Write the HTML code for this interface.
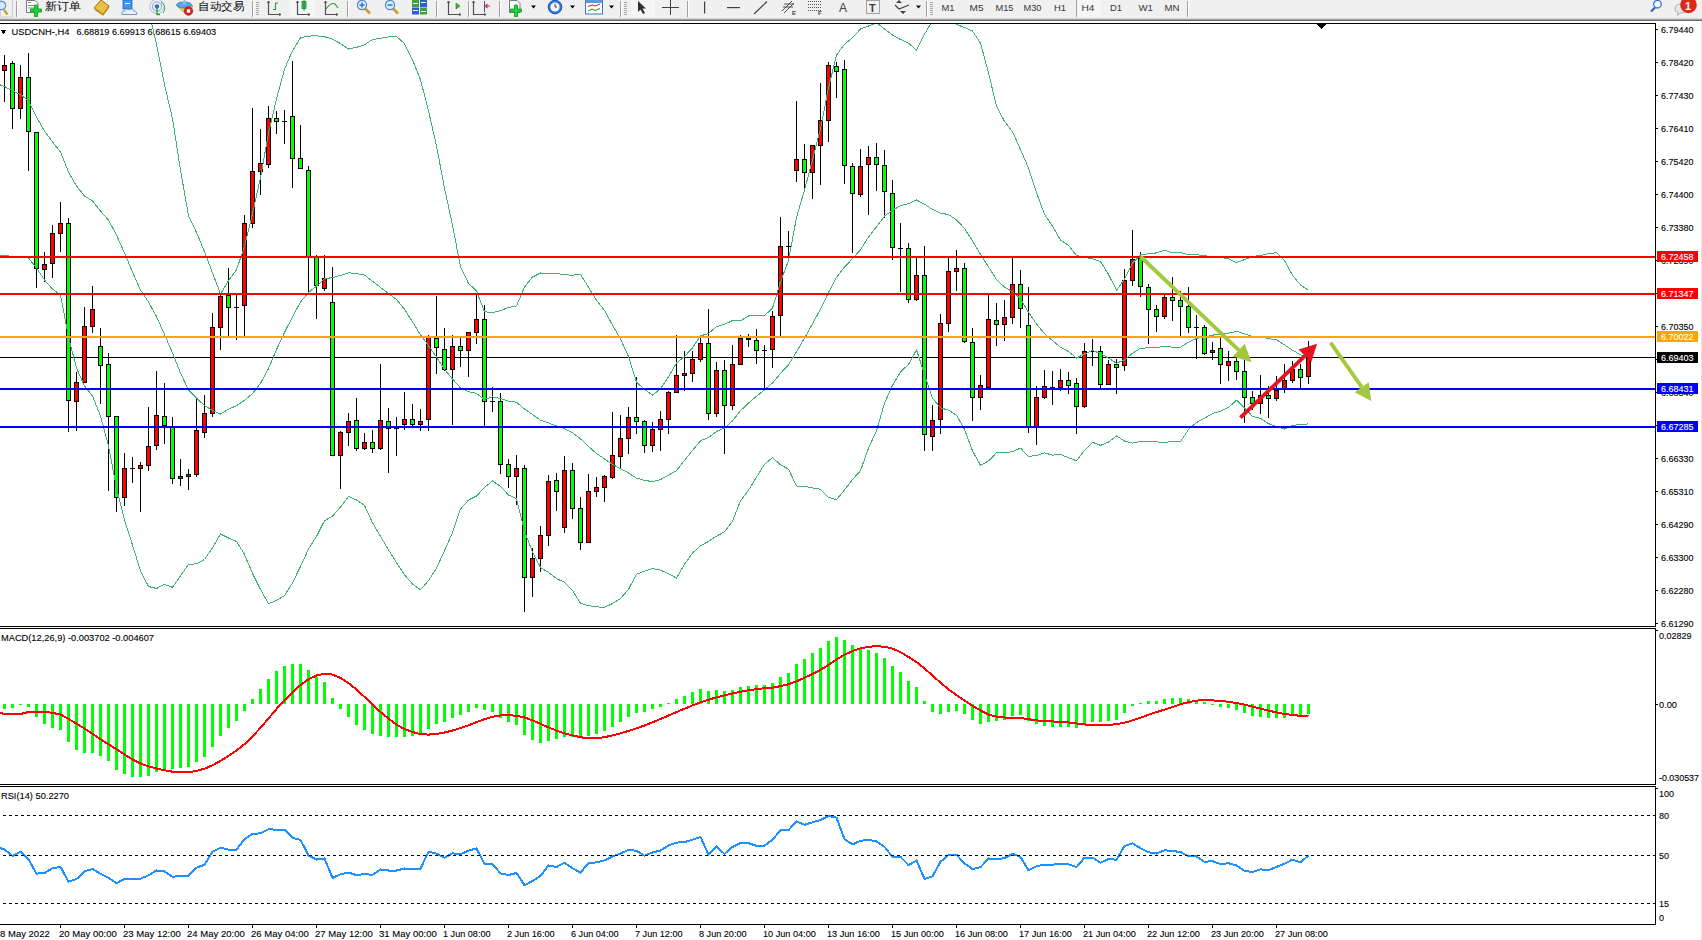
<!DOCTYPE html>
<html><head><meta charset="utf-8"><style>
html,body{margin:0;padding:0;background:#fff;width:1702px;height:940px;overflow:hidden}
svg{display:block}
text{font-family:"Liberation Sans", sans-serif}
</style></head><body>
<svg width="1702" height="940" viewBox="0 0 1702 940">
<rect x="0" y="0" width="1702" height="940" fill="#fff"/>
<g shape-rendering="crispEdges">
<rect x="0" y="23" width="1656" height="1" fill="#000"/>
<rect x="0" y="626" width="1656" height="1" fill="#000"/>
<rect x="0" y="628" width="1656" height="1" fill="#000"/>
<rect x="0" y="784" width="1656" height="1" fill="#000"/>
<rect x="0" y="786" width="1656" height="1" fill="#000"/>
<rect x="0" y="924" width="1656" height="1" fill="#000"/>
<rect x="1655" y="23" width="1" height="604" fill="#000"/>
<rect x="1655" y="628" width="1" height="157" fill="#000"/>
<rect x="1655" y="786" width="1" height="139" fill="#000"/>
<clipPath id="cm"><rect x="0" y="24" width="1655" height="602"/></clipPath>
<clipPath id="cd"><rect x="0" y="629" width="1655" height="155"/></clipPath>
<clipPath id="cr"><rect x="0" y="787" width="1655" height="137"/></clipPath>
<g clip-path="url(#cm)">
<rect x="0" y="357" width="1655" height="1" fill="#000"/>
<rect x="4" y="55" width="1" height="47" fill="#000"/>
<rect x="2" y="65" width="5" height="6" fill="#000"/>
<rect x="3" y="66" width="3" height="4" fill="#ff0000"/>
<rect x="12" y="61" width="1" height="68" fill="#000"/>
<rect x="10" y="63" width="5" height="46" fill="#000"/>
<rect x="11" y="64" width="3" height="44" fill="#00ff00"/>
<rect x="20" y="65" width="1" height="54" fill="#000"/>
<rect x="18" y="77" width="5" height="32" fill="#000"/>
<rect x="19" y="78" width="3" height="30" fill="#ff0000"/>
<rect x="28" y="53" width="1" height="118" fill="#000"/>
<rect x="26" y="77" width="5" height="55" fill="#000"/>
<rect x="27" y="78" width="3" height="53" fill="#00ff00"/>
<rect x="36" y="132" width="1" height="156" fill="#000"/>
<rect x="34" y="132" width="5" height="137" fill="#000"/>
<rect x="35" y="133" width="3" height="135" fill="#00ff00"/>
<rect x="44" y="252" width="1" height="30" fill="#000"/>
<rect x="42" y="264" width="5" height="6" fill="#000"/>
<rect x="43" y="265" width="3" height="4" fill="#ff0000"/>
<rect x="52" y="225" width="1" height="53" fill="#000"/>
<rect x="50" y="233" width="5" height="31" fill="#000"/>
<rect x="51" y="234" width="3" height="29" fill="#ff0000"/>
<rect x="60" y="202" width="1" height="50" fill="#000"/>
<rect x="58" y="223" width="5" height="11" fill="#000"/>
<rect x="59" y="224" width="3" height="9" fill="#ff0000"/>
<rect x="68" y="218" width="1" height="214" fill="#000"/>
<rect x="66" y="223" width="5" height="178" fill="#000"/>
<rect x="67" y="224" width="3" height="176" fill="#00ff00"/>
<rect x="76" y="372" width="1" height="59" fill="#000"/>
<rect x="74" y="382" width="5" height="20" fill="#000"/>
<rect x="75" y="383" width="3" height="18" fill="#ff0000"/>
<rect x="84" y="307" width="1" height="76" fill="#000"/>
<rect x="82" y="326" width="5" height="57" fill="#000"/>
<rect x="83" y="327" width="3" height="55" fill="#ff0000"/>
<rect x="92" y="286" width="1" height="47" fill="#000"/>
<rect x="90" y="309" width="5" height="18" fill="#000"/>
<rect x="91" y="310" width="3" height="16" fill="#ff0000"/>
<rect x="100" y="328" width="1" height="76" fill="#000"/>
<rect x="98" y="346" width="5" height="20" fill="#000"/>
<rect x="99" y="347" width="3" height="18" fill="#00ff00"/>
<rect x="108" y="353" width="1" height="138" fill="#000"/>
<rect x="106" y="364" width="5" height="53" fill="#000"/>
<rect x="107" y="365" width="3" height="51" fill="#00ff00"/>
<rect x="116" y="416" width="1" height="96" fill="#000"/>
<rect x="114" y="416" width="5" height="82" fill="#000"/>
<rect x="115" y="417" width="3" height="80" fill="#00ff00"/>
<rect x="124" y="453" width="1" height="53" fill="#000"/>
<rect x="122" y="468" width="5" height="30" fill="#000"/>
<rect x="123" y="469" width="3" height="28" fill="#ff0000"/>
<rect x="132" y="457" width="1" height="26" fill="#000"/>
<rect x="130" y="468" width="5" height="1" fill="#000"/>
<rect x="140" y="462" width="1" height="50" fill="#000"/>
<rect x="138" y="465" width="5" height="4" fill="#000"/>
<rect x="139" y="466" width="3" height="2" fill="#ff0000"/>
<rect x="148" y="407" width="1" height="64" fill="#000"/>
<rect x="146" y="446" width="5" height="20" fill="#000"/>
<rect x="147" y="447" width="3" height="18" fill="#ff0000"/>
<rect x="156" y="371" width="1" height="79" fill="#000"/>
<rect x="154" y="415" width="5" height="31" fill="#000"/>
<rect x="155" y="416" width="3" height="29" fill="#ff0000"/>
<rect x="164" y="383" width="1" height="61" fill="#000"/>
<rect x="162" y="416" width="5" height="10" fill="#000"/>
<rect x="163" y="417" width="3" height="8" fill="#00ff00"/>
<rect x="172" y="417" width="1" height="67" fill="#000"/>
<rect x="170" y="427" width="5" height="52" fill="#000"/>
<rect x="171" y="428" width="3" height="50" fill="#00ff00"/>
<rect x="180" y="459" width="1" height="27" fill="#000"/>
<rect x="178" y="476" width="5" height="3" fill="#000"/>
<rect x="179" y="477" width="3" height="1" fill="#ff0000"/>
<rect x="188" y="469" width="1" height="21" fill="#000"/>
<rect x="186" y="474" width="5" height="3" fill="#000"/>
<rect x="187" y="475" width="3" height="1" fill="#ff0000"/>
<rect x="196" y="399" width="1" height="78" fill="#000"/>
<rect x="194" y="430" width="5" height="45" fill="#000"/>
<rect x="195" y="431" width="3" height="43" fill="#ff0000"/>
<rect x="204" y="395" width="1" height="43" fill="#000"/>
<rect x="202" y="413" width="5" height="20" fill="#000"/>
<rect x="203" y="414" width="3" height="18" fill="#ff0000"/>
<rect x="212" y="313" width="1" height="104" fill="#000"/>
<rect x="210" y="327" width="5" height="87" fill="#000"/>
<rect x="211" y="328" width="3" height="85" fill="#ff0000"/>
<rect x="220" y="293" width="1" height="57" fill="#000"/>
<rect x="218" y="296" width="5" height="32" fill="#000"/>
<rect x="219" y="297" width="3" height="30" fill="#ff0000"/>
<rect x="228" y="268" width="1" height="68" fill="#000"/>
<rect x="226" y="295" width="5" height="13" fill="#000"/>
<rect x="227" y="296" width="3" height="11" fill="#00ff00"/>
<rect x="236" y="295" width="1" height="45" fill="#000"/>
<rect x="234" y="307" width="5" height="1" fill="#000"/>
<rect x="244" y="215" width="1" height="121" fill="#000"/>
<rect x="242" y="223" width="5" height="83" fill="#000"/>
<rect x="243" y="224" width="3" height="81" fill="#ff0000"/>
<rect x="252" y="108" width="1" height="120" fill="#000"/>
<rect x="250" y="171" width="5" height="53" fill="#000"/>
<rect x="251" y="172" width="3" height="51" fill="#ff0000"/>
<rect x="260" y="129" width="1" height="66" fill="#000"/>
<rect x="258" y="163" width="5" height="9" fill="#000"/>
<rect x="259" y="164" width="3" height="7" fill="#ff0000"/>
<rect x="268" y="106" width="1" height="62" fill="#000"/>
<rect x="266" y="118" width="5" height="47" fill="#000"/>
<rect x="267" y="119" width="3" height="45" fill="#ff0000"/>
<rect x="276" y="111" width="1" height="23" fill="#000"/>
<rect x="274" y="118" width="5" height="4" fill="#000"/>
<rect x="275" y="119" width="3" height="2" fill="#00ff00"/>
<rect x="284" y="110" width="1" height="34" fill="#000"/>
<rect x="282" y="121" width="5" height="1" fill="#000"/>
<rect x="292" y="61" width="1" height="127" fill="#000"/>
<rect x="290" y="116" width="5" height="43" fill="#000"/>
<rect x="291" y="117" width="3" height="41" fill="#00ff00"/>
<rect x="300" y="125" width="1" height="44" fill="#000"/>
<rect x="298" y="158" width="5" height="11" fill="#000"/>
<rect x="299" y="159" width="3" height="9" fill="#00ff00"/>
<rect x="308" y="166" width="1" height="126" fill="#000"/>
<rect x="306" y="170" width="5" height="87" fill="#000"/>
<rect x="307" y="171" width="3" height="85" fill="#00ff00"/>
<rect x="316" y="255" width="1" height="64" fill="#000"/>
<rect x="314" y="257" width="5" height="29" fill="#000"/>
<rect x="315" y="258" width="3" height="27" fill="#00ff00"/>
<rect x="324" y="255" width="1" height="36" fill="#000"/>
<rect x="322" y="278" width="5" height="11" fill="#000"/>
<rect x="323" y="279" width="3" height="9" fill="#ff0000"/>
<rect x="332" y="267" width="1" height="189" fill="#000"/>
<rect x="330" y="302" width="5" height="154" fill="#000"/>
<rect x="331" y="303" width="3" height="152" fill="#00ff00"/>
<rect x="340" y="431" width="1" height="58" fill="#000"/>
<rect x="338" y="432" width="5" height="24" fill="#000"/>
<rect x="339" y="433" width="3" height="22" fill="#ff0000"/>
<rect x="348" y="413" width="1" height="33" fill="#000"/>
<rect x="346" y="421" width="5" height="12" fill="#000"/>
<rect x="347" y="422" width="3" height="10" fill="#ff0000"/>
<rect x="356" y="398" width="1" height="53" fill="#000"/>
<rect x="354" y="420" width="5" height="29" fill="#000"/>
<rect x="355" y="421" width="3" height="27" fill="#00ff00"/>
<rect x="364" y="433" width="1" height="17" fill="#000"/>
<rect x="362" y="442" width="5" height="7" fill="#000"/>
<rect x="363" y="443" width="3" height="5" fill="#ff0000"/>
<rect x="372" y="430" width="1" height="23" fill="#000"/>
<rect x="370" y="442" width="5" height="7" fill="#000"/>
<rect x="371" y="443" width="3" height="5" fill="#00ff00"/>
<rect x="380" y="364" width="1" height="86" fill="#000"/>
<rect x="378" y="420" width="5" height="29" fill="#000"/>
<rect x="379" y="421" width="3" height="27" fill="#ff0000"/>
<rect x="388" y="408" width="1" height="65" fill="#000"/>
<rect x="386" y="421" width="5" height="8" fill="#000"/>
<rect x="387" y="422" width="3" height="6" fill="#00ff00"/>
<rect x="396" y="417" width="1" height="39" fill="#000"/>
<rect x="394" y="426" width="5" height="3" fill="#000"/>
<rect x="395" y="427" width="3" height="1" fill="#00ff00"/>
<rect x="404" y="392" width="1" height="38" fill="#000"/>
<rect x="402" y="419" width="5" height="6" fill="#000"/>
<rect x="403" y="420" width="3" height="4" fill="#ff0000"/>
<rect x="412" y="404" width="1" height="23" fill="#000"/>
<rect x="410" y="419" width="5" height="6" fill="#000"/>
<rect x="411" y="420" width="3" height="4" fill="#00ff00"/>
<rect x="420" y="409" width="1" height="22" fill="#000"/>
<rect x="418" y="421" width="5" height="4" fill="#000"/>
<rect x="419" y="422" width="3" height="2" fill="#ff0000"/>
<rect x="428" y="335" width="1" height="96" fill="#000"/>
<rect x="426" y="337" width="5" height="83" fill="#000"/>
<rect x="427" y="338" width="3" height="81" fill="#ff0000"/>
<rect x="436" y="296" width="1" height="78" fill="#000"/>
<rect x="434" y="338" width="5" height="10" fill="#000"/>
<rect x="435" y="339" width="3" height="8" fill="#00ff00"/>
<rect x="444" y="328" width="1" height="43" fill="#000"/>
<rect x="442" y="349" width="5" height="21" fill="#000"/>
<rect x="443" y="350" width="3" height="19" fill="#00ff00"/>
<rect x="452" y="335" width="1" height="90" fill="#000"/>
<rect x="450" y="346" width="5" height="24" fill="#000"/>
<rect x="451" y="347" width="3" height="22" fill="#ff0000"/>
<rect x="460" y="338" width="1" height="29" fill="#000"/>
<rect x="458" y="346" width="5" height="5" fill="#000"/>
<rect x="459" y="347" width="3" height="3" fill="#00ff00"/>
<rect x="468" y="332" width="1" height="45" fill="#000"/>
<rect x="466" y="332" width="5" height="19" fill="#000"/>
<rect x="467" y="333" width="3" height="17" fill="#ff0000"/>
<rect x="476" y="293" width="1" height="51" fill="#000"/>
<rect x="474" y="319" width="5" height="14" fill="#000"/>
<rect x="475" y="320" width="3" height="12" fill="#ff0000"/>
<rect x="484" y="305" width="1" height="122" fill="#000"/>
<rect x="482" y="319" width="5" height="83" fill="#000"/>
<rect x="483" y="320" width="3" height="81" fill="#00ff00"/>
<rect x="492" y="387" width="1" height="25" fill="#000"/>
<rect x="490" y="401" width="5" height="1" fill="#000"/>
<rect x="500" y="393" width="1" height="81" fill="#000"/>
<rect x="498" y="401" width="5" height="64" fill="#000"/>
<rect x="499" y="402" width="3" height="62" fill="#00ff00"/>
<rect x="508" y="459" width="1" height="29" fill="#000"/>
<rect x="506" y="464" width="5" height="13" fill="#000"/>
<rect x="507" y="465" width="3" height="11" fill="#00ff00"/>
<rect x="516" y="455" width="1" height="50" fill="#000"/>
<rect x="514" y="468" width="5" height="9" fill="#000"/>
<rect x="515" y="469" width="3" height="7" fill="#ff0000"/>
<rect x="524" y="465" width="1" height="147" fill="#000"/>
<rect x="522" y="468" width="5" height="110" fill="#000"/>
<rect x="523" y="469" width="3" height="108" fill="#00ff00"/>
<rect x="532" y="548" width="1" height="49" fill="#000"/>
<rect x="530" y="558" width="5" height="20" fill="#000"/>
<rect x="531" y="559" width="3" height="18" fill="#ff0000"/>
<rect x="540" y="526" width="1" height="46" fill="#000"/>
<rect x="538" y="535" width="5" height="24" fill="#000"/>
<rect x="539" y="536" width="3" height="22" fill="#ff0000"/>
<rect x="548" y="475" width="1" height="71" fill="#000"/>
<rect x="546" y="481" width="5" height="55" fill="#000"/>
<rect x="547" y="482" width="3" height="53" fill="#ff0000"/>
<rect x="556" y="473" width="1" height="38" fill="#000"/>
<rect x="554" y="480" width="5" height="12" fill="#000"/>
<rect x="555" y="481" width="3" height="10" fill="#00ff00"/>
<rect x="564" y="456" width="1" height="77" fill="#000"/>
<rect x="562" y="470" width="5" height="58" fill="#000"/>
<rect x="563" y="471" width="3" height="56" fill="#ff0000"/>
<rect x="572" y="463" width="1" height="56" fill="#000"/>
<rect x="570" y="470" width="5" height="39" fill="#000"/>
<rect x="571" y="471" width="3" height="37" fill="#00ff00"/>
<rect x="580" y="497" width="1" height="53" fill="#000"/>
<rect x="578" y="508" width="5" height="35" fill="#000"/>
<rect x="579" y="509" width="3" height="33" fill="#00ff00"/>
<rect x="588" y="474" width="1" height="69" fill="#000"/>
<rect x="586" y="491" width="5" height="52" fill="#000"/>
<rect x="587" y="492" width="3" height="50" fill="#ff0000"/>
<rect x="596" y="477" width="1" height="20" fill="#000"/>
<rect x="594" y="487" width="5" height="5" fill="#000"/>
<rect x="595" y="488" width="3" height="3" fill="#ff0000"/>
<rect x="604" y="475" width="1" height="27" fill="#000"/>
<rect x="602" y="476" width="5" height="12" fill="#000"/>
<rect x="603" y="477" width="3" height="10" fill="#ff0000"/>
<rect x="612" y="412" width="1" height="67" fill="#000"/>
<rect x="610" y="455" width="5" height="23" fill="#000"/>
<rect x="611" y="456" width="3" height="21" fill="#ff0000"/>
<rect x="620" y="415" width="1" height="54" fill="#000"/>
<rect x="618" y="438" width="5" height="19" fill="#000"/>
<rect x="619" y="439" width="3" height="17" fill="#ff0000"/>
<rect x="628" y="407" width="1" height="47" fill="#000"/>
<rect x="626" y="417" width="5" height="22" fill="#000"/>
<rect x="627" y="418" width="3" height="20" fill="#ff0000"/>
<rect x="636" y="377" width="1" height="57" fill="#000"/>
<rect x="634" y="417" width="5" height="5" fill="#000"/>
<rect x="635" y="418" width="3" height="3" fill="#00ff00"/>
<rect x="644" y="420" width="1" height="33" fill="#000"/>
<rect x="642" y="421" width="5" height="25" fill="#000"/>
<rect x="643" y="422" width="3" height="23" fill="#00ff00"/>
<rect x="652" y="422" width="1" height="30" fill="#000"/>
<rect x="650" y="429" width="5" height="17" fill="#000"/>
<rect x="651" y="430" width="3" height="15" fill="#ff0000"/>
<rect x="660" y="411" width="1" height="40" fill="#000"/>
<rect x="658" y="419" width="5" height="11" fill="#000"/>
<rect x="659" y="420" width="3" height="9" fill="#ff0000"/>
<rect x="668" y="391" width="1" height="43" fill="#000"/>
<rect x="666" y="392" width="5" height="28" fill="#000"/>
<rect x="667" y="393" width="3" height="26" fill="#ff0000"/>
<rect x="676" y="335" width="1" height="58" fill="#000"/>
<rect x="674" y="375" width="5" height="18" fill="#000"/>
<rect x="675" y="376" width="3" height="16" fill="#ff0000"/>
<rect x="684" y="351" width="1" height="40" fill="#000"/>
<rect x="682" y="373" width="5" height="3" fill="#000"/>
<rect x="683" y="374" width="3" height="1" fill="#ff0000"/>
<rect x="692" y="351" width="1" height="31" fill="#000"/>
<rect x="690" y="359" width="5" height="15" fill="#000"/>
<rect x="691" y="360" width="3" height="13" fill="#ff0000"/>
<rect x="700" y="338" width="1" height="24" fill="#000"/>
<rect x="698" y="343" width="5" height="17" fill="#000"/>
<rect x="699" y="344" width="3" height="15" fill="#ff0000"/>
<rect x="708" y="309" width="1" height="111" fill="#000"/>
<rect x="706" y="343" width="5" height="71" fill="#000"/>
<rect x="707" y="344" width="3" height="69" fill="#00ff00"/>
<rect x="716" y="362" width="1" height="55" fill="#000"/>
<rect x="714" y="370" width="5" height="44" fill="#000"/>
<rect x="715" y="371" width="3" height="42" fill="#ff0000"/>
<rect x="724" y="360" width="1" height="94" fill="#000"/>
<rect x="722" y="370" width="5" height="36" fill="#000"/>
<rect x="723" y="371" width="3" height="34" fill="#00ff00"/>
<rect x="732" y="345" width="1" height="65" fill="#000"/>
<rect x="730" y="364" width="5" height="42" fill="#000"/>
<rect x="731" y="365" width="3" height="40" fill="#ff0000"/>
<rect x="740" y="335" width="1" height="30" fill="#000"/>
<rect x="738" y="338" width="5" height="27" fill="#000"/>
<rect x="739" y="339" width="3" height="25" fill="#ff0000"/>
<rect x="748" y="334" width="1" height="13" fill="#000"/>
<rect x="746" y="338" width="5" height="2" fill="#000"/>
<rect x="756" y="329" width="1" height="35" fill="#000"/>
<rect x="754" y="340" width="5" height="11" fill="#000"/>
<rect x="755" y="341" width="3" height="9" fill="#00ff00"/>
<rect x="764" y="345" width="1" height="44" fill="#000"/>
<rect x="762" y="350" width="5" height="1" fill="#000"/>
<rect x="772" y="311" width="1" height="57" fill="#000"/>
<rect x="770" y="316" width="5" height="34" fill="#000"/>
<rect x="771" y="317" width="3" height="32" fill="#ff0000"/>
<rect x="780" y="217" width="1" height="119" fill="#000"/>
<rect x="778" y="246" width="5" height="70" fill="#000"/>
<rect x="779" y="247" width="3" height="68" fill="#ff0000"/>
<rect x="788" y="231" width="1" height="26" fill="#000"/>
<rect x="786" y="246" width="5" height="1" fill="#000"/>
<rect x="796" y="101" width="1" height="81" fill="#000"/>
<rect x="794" y="159" width="5" height="12" fill="#000"/>
<rect x="795" y="160" width="3" height="10" fill="#ff0000"/>
<rect x="804" y="144" width="1" height="45" fill="#000"/>
<rect x="802" y="159" width="5" height="14" fill="#000"/>
<rect x="803" y="160" width="3" height="12" fill="#00ff00"/>
<rect x="812" y="145" width="1" height="54" fill="#000"/>
<rect x="810" y="145" width="5" height="28" fill="#000"/>
<rect x="811" y="146" width="3" height="26" fill="#ff0000"/>
<rect x="820" y="83" width="1" height="102" fill="#000"/>
<rect x="818" y="120" width="5" height="26" fill="#000"/>
<rect x="819" y="121" width="3" height="24" fill="#ff0000"/>
<rect x="828" y="62" width="1" height="80" fill="#000"/>
<rect x="826" y="65" width="5" height="56" fill="#000"/>
<rect x="827" y="66" width="3" height="54" fill="#ff0000"/>
<rect x="836" y="62" width="1" height="36" fill="#000"/>
<rect x="834" y="66" width="5" height="6" fill="#000"/>
<rect x="835" y="67" width="3" height="4" fill="#00ff00"/>
<rect x="844" y="60" width="1" height="124" fill="#000"/>
<rect x="842" y="69" width="5" height="97" fill="#000"/>
<rect x="843" y="70" width="3" height="95" fill="#00ff00"/>
<rect x="852" y="163" width="1" height="90" fill="#000"/>
<rect x="850" y="166" width="5" height="28" fill="#000"/>
<rect x="851" y="167" width="3" height="26" fill="#00ff00"/>
<rect x="860" y="149" width="1" height="48" fill="#000"/>
<rect x="858" y="166" width="5" height="29" fill="#000"/>
<rect x="859" y="167" width="3" height="27" fill="#ff0000"/>
<rect x="868" y="146" width="1" height="69" fill="#000"/>
<rect x="866" y="157" width="5" height="8" fill="#000"/>
<rect x="867" y="158" width="3" height="6" fill="#ff0000"/>
<rect x="876" y="143" width="1" height="48" fill="#000"/>
<rect x="874" y="157" width="5" height="8" fill="#000"/>
<rect x="875" y="158" width="3" height="6" fill="#00ff00"/>
<rect x="884" y="150" width="1" height="68" fill="#000"/>
<rect x="882" y="165" width="5" height="27" fill="#000"/>
<rect x="883" y="166" width="3" height="25" fill="#00ff00"/>
<rect x="892" y="180" width="1" height="80" fill="#000"/>
<rect x="890" y="193" width="5" height="55" fill="#000"/>
<rect x="891" y="194" width="3" height="53" fill="#00ff00"/>
<rect x="900" y="223" width="1" height="69" fill="#000"/>
<rect x="898" y="248" width="5" height="1" fill="#000"/>
<rect x="908" y="243" width="1" height="60" fill="#000"/>
<rect x="906" y="248" width="5" height="52" fill="#000"/>
<rect x="907" y="249" width="3" height="50" fill="#00ff00"/>
<rect x="916" y="258" width="1" height="43" fill="#000"/>
<rect x="914" y="275" width="5" height="25" fill="#000"/>
<rect x="915" y="276" width="3" height="23" fill="#ff0000"/>
<rect x="924" y="246" width="1" height="205" fill="#000"/>
<rect x="922" y="275" width="5" height="160" fill="#000"/>
<rect x="923" y="276" width="3" height="158" fill="#00ff00"/>
<rect x="932" y="405" width="1" height="46" fill="#000"/>
<rect x="930" y="420" width="5" height="17" fill="#000"/>
<rect x="931" y="421" width="3" height="15" fill="#ff0000"/>
<rect x="940" y="314" width="1" height="120" fill="#000"/>
<rect x="938" y="323" width="5" height="97" fill="#000"/>
<rect x="939" y="324" width="3" height="95" fill="#ff0000"/>
<rect x="948" y="258" width="1" height="74" fill="#000"/>
<rect x="946" y="271" width="5" height="53" fill="#000"/>
<rect x="947" y="272" width="3" height="51" fill="#ff0000"/>
<rect x="956" y="250" width="1" height="41" fill="#000"/>
<rect x="954" y="268" width="5" height="4" fill="#000"/>
<rect x="955" y="269" width="3" height="2" fill="#ff0000"/>
<rect x="964" y="263" width="1" height="80" fill="#000"/>
<rect x="962" y="268" width="5" height="74" fill="#000"/>
<rect x="963" y="269" width="3" height="72" fill="#00ff00"/>
<rect x="972" y="328" width="1" height="93" fill="#000"/>
<rect x="970" y="342" width="5" height="56" fill="#000"/>
<rect x="971" y="343" width="3" height="54" fill="#00ff00"/>
<rect x="980" y="375" width="1" height="35" fill="#000"/>
<rect x="978" y="385" width="5" height="13" fill="#000"/>
<rect x="979" y="386" width="3" height="11" fill="#ff0000"/>
<rect x="988" y="295" width="1" height="93" fill="#000"/>
<rect x="986" y="319" width="5" height="69" fill="#000"/>
<rect x="987" y="320" width="3" height="67" fill="#ff0000"/>
<rect x="996" y="303" width="1" height="43" fill="#000"/>
<rect x="994" y="320" width="5" height="5" fill="#000"/>
<rect x="995" y="321" width="3" height="3" fill="#00ff00"/>
<rect x="1004" y="300" width="1" height="41" fill="#000"/>
<rect x="1002" y="317" width="5" height="8" fill="#000"/>
<rect x="1003" y="318" width="3" height="6" fill="#ff0000"/>
<rect x="1012" y="258" width="1" height="66" fill="#000"/>
<rect x="1010" y="284" width="5" height="34" fill="#000"/>
<rect x="1011" y="285" width="3" height="32" fill="#ff0000"/>
<rect x="1020" y="270" width="1" height="58" fill="#000"/>
<rect x="1018" y="284" width="5" height="25" fill="#000"/>
<rect x="1019" y="285" width="3" height="23" fill="#00ff00"/>
<rect x="1028" y="287" width="1" height="146" fill="#000"/>
<rect x="1026" y="325" width="5" height="102" fill="#000"/>
<rect x="1027" y="326" width="3" height="100" fill="#00ff00"/>
<rect x="1036" y="386" width="1" height="59" fill="#000"/>
<rect x="1034" y="397" width="5" height="30" fill="#000"/>
<rect x="1035" y="398" width="3" height="28" fill="#ff0000"/>
<rect x="1044" y="370" width="1" height="29" fill="#000"/>
<rect x="1042" y="386" width="5" height="12" fill="#000"/>
<rect x="1043" y="387" width="3" height="10" fill="#ff0000"/>
<rect x="1052" y="371" width="1" height="34" fill="#000"/>
<rect x="1050" y="387" width="5" height="1" fill="#000"/>
<rect x="1060" y="369" width="1" height="22" fill="#000"/>
<rect x="1058" y="380" width="5" height="8" fill="#000"/>
<rect x="1059" y="381" width="3" height="6" fill="#ff0000"/>
<rect x="1068" y="372" width="1" height="22" fill="#000"/>
<rect x="1066" y="380" width="5" height="6" fill="#000"/>
<rect x="1067" y="381" width="3" height="4" fill="#00ff00"/>
<rect x="1076" y="378" width="1" height="56" fill="#000"/>
<rect x="1074" y="383" width="5" height="24" fill="#000"/>
<rect x="1075" y="384" width="3" height="22" fill="#00ff00"/>
<rect x="1084" y="343" width="1" height="65" fill="#000"/>
<rect x="1082" y="351" width="5" height="56" fill="#000"/>
<rect x="1083" y="352" width="3" height="54" fill="#ff0000"/>
<rect x="1092" y="339" width="1" height="27" fill="#000"/>
<rect x="1090" y="351" width="5" height="1" fill="#000"/>
<rect x="1100" y="346" width="1" height="42" fill="#000"/>
<rect x="1098" y="351" width="5" height="34" fill="#000"/>
<rect x="1099" y="352" width="3" height="32" fill="#00ff00"/>
<rect x="1108" y="360" width="1" height="25" fill="#000"/>
<rect x="1106" y="364" width="5" height="21" fill="#000"/>
<rect x="1107" y="365" width="3" height="19" fill="#ff0000"/>
<rect x="1116" y="359" width="1" height="35" fill="#000"/>
<rect x="1114" y="364" width="5" height="4" fill="#000"/>
<rect x="1115" y="365" width="3" height="2" fill="#00ff00"/>
<rect x="1124" y="269" width="1" height="102" fill="#000"/>
<rect x="1122" y="280" width="5" height="86" fill="#000"/>
<rect x="1123" y="281" width="3" height="84" fill="#ff0000"/>
<rect x="1132" y="230" width="1" height="56" fill="#000"/>
<rect x="1130" y="259" width="5" height="22" fill="#000"/>
<rect x="1131" y="260" width="3" height="20" fill="#ff0000"/>
<rect x="1140" y="252" width="1" height="45" fill="#000"/>
<rect x="1138" y="258" width="5" height="29" fill="#000"/>
<rect x="1139" y="259" width="3" height="27" fill="#00ff00"/>
<rect x="1148" y="284" width="1" height="60" fill="#000"/>
<rect x="1146" y="287" width="5" height="23" fill="#000"/>
<rect x="1147" y="288" width="3" height="21" fill="#00ff00"/>
<rect x="1156" y="305" width="1" height="27" fill="#000"/>
<rect x="1154" y="309" width="5" height="8" fill="#000"/>
<rect x="1155" y="310" width="3" height="6" fill="#00ff00"/>
<rect x="1164" y="295" width="1" height="24" fill="#000"/>
<rect x="1162" y="297" width="5" height="20" fill="#000"/>
<rect x="1163" y="298" width="3" height="18" fill="#ff0000"/>
<rect x="1172" y="277" width="1" height="44" fill="#000"/>
<rect x="1170" y="297" width="5" height="4" fill="#000"/>
<rect x="1171" y="298" width="3" height="2" fill="#00ff00"/>
<rect x="1180" y="291" width="1" height="46" fill="#000"/>
<rect x="1178" y="300" width="5" height="7" fill="#000"/>
<rect x="1179" y="301" width="3" height="5" fill="#00ff00"/>
<rect x="1188" y="287" width="1" height="46" fill="#000"/>
<rect x="1186" y="306" width="5" height="22" fill="#000"/>
<rect x="1187" y="307" width="3" height="20" fill="#00ff00"/>
<rect x="1196" y="315" width="1" height="44" fill="#000"/>
<rect x="1194" y="327" width="5" height="1" fill="#000"/>
<rect x="1204" y="325" width="1" height="30" fill="#000"/>
<rect x="1202" y="327" width="5" height="27" fill="#000"/>
<rect x="1203" y="328" width="3" height="25" fill="#00ff00"/>
<rect x="1212" y="342" width="1" height="18" fill="#000"/>
<rect x="1210" y="350" width="5" height="3" fill="#000"/>
<rect x="1211" y="351" width="3" height="1" fill="#ff0000"/>
<rect x="1220" y="338" width="1" height="46" fill="#000"/>
<rect x="1218" y="348" width="5" height="17" fill="#000"/>
<rect x="1219" y="349" width="3" height="15" fill="#00ff00"/>
<rect x="1228" y="351" width="1" height="30" fill="#000"/>
<rect x="1226" y="361" width="5" height="5" fill="#000"/>
<rect x="1227" y="362" width="3" height="3" fill="#ff0000"/>
<rect x="1236" y="358" width="1" height="22" fill="#000"/>
<rect x="1234" y="361" width="5" height="11" fill="#000"/>
<rect x="1235" y="362" width="3" height="9" fill="#00ff00"/>
<rect x="1244" y="359" width="1" height="64" fill="#000"/>
<rect x="1242" y="371" width="5" height="27" fill="#000"/>
<rect x="1243" y="372" width="3" height="25" fill="#00ff00"/>
<rect x="1252" y="391" width="1" height="19" fill="#000"/>
<rect x="1250" y="397" width="5" height="7" fill="#000"/>
<rect x="1251" y="398" width="3" height="5" fill="#00ff00"/>
<rect x="1260" y="375" width="1" height="39" fill="#000"/>
<rect x="1258" y="395" width="5" height="9" fill="#000"/>
<rect x="1259" y="396" width="3" height="7" fill="#ff0000"/>
<rect x="1268" y="386" width="1" height="32" fill="#000"/>
<rect x="1266" y="395" width="5" height="4" fill="#000"/>
<rect x="1267" y="396" width="3" height="2" fill="#00ff00"/>
<rect x="1276" y="376" width="1" height="25" fill="#000"/>
<rect x="1274" y="390" width="5" height="9" fill="#000"/>
<rect x="1275" y="391" width="3" height="7" fill="#ff0000"/>
<rect x="1284" y="364" width="1" height="29" fill="#000"/>
<rect x="1282" y="380" width="5" height="10" fill="#000"/>
<rect x="1283" y="381" width="3" height="8" fill="#ff0000"/>
<rect x="1292" y="361" width="1" height="22" fill="#000"/>
<rect x="1290" y="369" width="5" height="12" fill="#000"/>
<rect x="1291" y="370" width="3" height="10" fill="#ff0000"/>
<rect x="1300" y="364" width="1" height="24" fill="#000"/>
<rect x="1298" y="369" width="5" height="9" fill="#000"/>
<rect x="1299" y="370" width="3" height="7" fill="#00ff00"/>
<rect x="1308" y="341" width="1" height="43" fill="#000"/>
<rect x="1306" y="358" width="5" height="19" fill="#000"/>
<rect x="1307" y="359" width="3" height="17" fill="#ff0000"/>
<polyline points="140.5,-20.0 148.5,10.0 156.5,44.4 164.5,84.7 172.5,118.6 180.5,170.1 188.5,215.8 196.5,232.4 204.5,251.7 212.5,272.9 220.5,293.9 228.5,280.6 236.5,269.8 244.5,246.5 252.5,213.6 260.5,177.5 268.5,133.2 276.5,99.1 284.5,69.1 292.5,50.9 300.5,37.7 308.5,36.1 316.5,35.8 324.5,36.7 332.5,39.2 340.5,43.6 348.5,49.0 356.5,47.3 364.5,44.8 372.5,39.6 380.5,38.3 388.5,37.0 396.5,36.4 404.5,43.6 412.5,59.8 420.5,79.8 428.5,110.9 436.5,145.9 444.5,188.3 452.5,225.0 460.5,267.0 468.5,283.4 476.5,290.9 484.5,311.7 492.5,312.8 500.5,310.6 508.5,307.4 516.5,306.0 524.5,287.0 532.5,277.0 540.5,273.0 548.5,273.2 556.5,273.4 564.5,274.8 572.5,275.2 580.5,274.4 588.5,287.4 596.5,300.3 604.5,310.3 612.5,325.2 620.5,339.0 628.5,356.6 636.5,382.0 644.5,389.5 652.5,395.0 660.5,388.8 668.5,376.8 676.5,363.0 684.5,356.5 692.5,347.8 700.5,335.9 708.5,333.5 716.5,326.6 724.5,324.4 732.5,320.5 740.5,320.7 748.5,316.0 756.5,315.4 764.5,315.6 772.5,308.2 780.5,282.0 788.5,260.5 796.5,217.5 804.5,190.0 812.5,159.8 820.5,128.7 828.5,87.8 836.5,55.1 844.5,44.2 852.5,37.8 860.5,29.0 868.5,26.0 876.5,22.8 884.5,28.9 892.5,35.0 900.5,39.5 908.5,43.1 916.5,50.1 924.5,34.2 932.5,20.7 940.5,18.7 948.5,18.8 956.5,24.6 964.5,27.4 972.5,31.0 980.5,43.1 988.5,72.9 996.5,106.3 1004.5,121.4 1012.5,131.6 1020.5,149.5 1028.5,168.1 1036.5,192.3 1044.5,214.5 1052.5,226.2 1060.5,240.0 1068.5,245.4 1076.5,255.5 1084.5,257.5 1092.5,258.8 1100.5,261.6 1108.5,274.4 1116.5,290.3 1124.5,279.2 1132.5,263.1 1140.5,255.0 1148.5,253.8 1156.5,252.9 1164.5,250.3 1172.5,252.9 1180.5,252.6 1188.5,254.7 1196.5,254.7 1204.5,255.7 1212.5,256.8 1220.5,257.5 1228.5,258.8 1236.5,262.6 1244.5,259.6 1252.5,256.4 1260.5,255.5 1268.5,253.7 1276.5,252.7 1284.5,260.5 1292.5,275.2 1300.5,284.9 1308.5,290.4" fill="none" stroke="#3cb371" stroke-width="1" shape-rendering="crispEdges"/>
<polyline points="-3.5,83.5 4.5,86.5 12.5,91.0 20.5,94.5 28.5,101.0 36.5,117.0 44.5,131.0 52.5,142.0 60.5,152.0 68.5,172.0 76.5,186.0 84.5,196.0 92.5,201.0 100.5,211.0 108.5,220.0 116.5,235.0 124.5,253.0 132.5,272.0 140.5,290.0 148.5,302.0 156.5,316.5 164.5,334.5 172.5,353.0 180.5,372.9 188.5,390.1 196.5,398.1 204.5,405.6 212.5,410.3 220.5,414.0 228.5,409.3 236.5,405.6 244.5,400.4 252.5,393.5 260.5,383.4 268.5,368.5 276.5,349.7 284.5,332.4 292.5,316.9 300.5,302.0 308.5,292.6 316.5,286.1 324.5,278.7 332.5,277.6 340.5,275.4 348.5,272.7 356.5,273.6 364.5,275.1 372.5,281.2 380.5,287.4 388.5,293.4 396.5,299.5 404.5,309.2 412.5,321.9 420.5,334.8 428.5,345.7 436.5,357.0 444.5,369.5 452.5,378.9 460.5,387.9 468.5,391.7 476.5,393.4 484.5,399.6 492.5,396.9 500.5,398.5 508.5,401.2 516.5,402.2 524.5,409.0 532.5,414.5 540.5,420.2 548.5,422.9 556.5,426.0 564.5,428.6 572.5,432.8 580.5,438.8 588.5,446.5 596.5,453.5 604.5,458.9 612.5,464.4 620.5,468.7 628.5,473.0 636.5,478.1 644.5,480.3 652.5,481.7 660.5,479.5 668.5,475.2 676.5,470.6 684.5,460.4 692.5,450.4 700.5,440.8 708.5,437.4 716.5,431.4 724.5,428.1 732.5,420.9 740.5,410.7 748.5,403.1 756.5,396.3 764.5,389.9 772.5,383.0 780.5,373.4 788.5,364.8 796.5,351.7 804.5,338.1 812.5,323.9 820.5,308.9 828.5,292.6 836.5,277.4 844.5,267.0 852.5,258.7 860.5,249.8 868.5,237.0 876.5,226.7 884.5,216.1 892.5,210.2 900.5,205.7 908.5,203.7 916.5,200.0 924.5,204.2 932.5,209.4 940.5,213.2 948.5,214.5 956.5,219.9 964.5,228.4 972.5,241.0 980.5,254.2 988.5,266.9 996.5,279.5 1004.5,287.1 1012.5,291.7 1020.5,298.8 1028.5,312.3 1036.5,323.9 1044.5,333.7 1052.5,340.6 1060.5,347.3 1068.5,351.5 1076.5,358.1 1084.5,354.0 1092.5,350.5 1100.5,353.5 1108.5,358.2 1116.5,363.2 1124.5,360.1 1132.5,353.2 1140.5,348.3 1148.5,347.8 1156.5,347.4 1164.5,346.4 1172.5,347.2 1180.5,347.1 1188.5,342.1 1196.5,338.6 1204.5,337.0 1212.5,335.1 1220.5,334.4 1228.5,333.2 1236.5,331.4 1244.5,333.7 1252.5,336.4 1260.5,336.9 1268.5,338.6 1276.5,339.8 1284.5,344.8 1292.5,350.2 1300.5,354.8 1308.5,357.2" fill="none" stroke="#3cb371" stroke-width="1" shape-rendering="crispEdges"/>
<polyline points="-3.5,255.0 4.5,255.5 12.5,256.5 20.5,257.0 28.5,258.0 36.5,268.0 44.5,280.0 52.5,289.0 60.5,295.0 68.5,337.0 76.5,368.0 84.5,386.0 92.5,396.0 100.5,416.0 108.5,446.0 116.5,488.0 124.5,520.0 132.5,545.0 140.5,571.0 148.5,586.5 156.5,588.5 164.5,584.3 172.5,587.4 180.5,575.8 188.5,564.3 196.5,563.9 204.5,559.5 212.5,547.7 220.5,534.0 228.5,538.0 236.5,541.4 244.5,554.4 252.5,573.5 260.5,589.4 268.5,603.8 276.5,600.4 284.5,595.7 292.5,582.9 300.5,566.4 308.5,549.1 316.5,536.4 324.5,520.7 332.5,516.0 340.5,507.1 348.5,496.5 356.5,500.0 364.5,505.4 372.5,522.7 380.5,536.4 388.5,549.9 396.5,562.6 404.5,574.9 412.5,584.0 420.5,589.8 428.5,580.6 436.5,568.2 444.5,550.6 452.5,532.7 460.5,508.9 468.5,500.1 476.5,496.0 484.5,487.5 492.5,480.9 500.5,486.3 508.5,495.0 516.5,498.5 524.5,531.0 532.5,552.0 540.5,567.5 548.5,572.5 556.5,578.6 564.5,582.3 572.5,590.4 580.5,603.3 588.5,605.6 596.5,606.8 604.5,607.4 612.5,603.5 620.5,598.5 628.5,589.4 636.5,574.2 644.5,571.2 652.5,568.4 660.5,570.1 668.5,573.6 676.5,578.2 684.5,564.3 692.5,553.1 700.5,545.8 708.5,541.4 716.5,536.1 724.5,531.9 732.5,521.3 740.5,500.7 748.5,490.2 756.5,477.1 764.5,464.3 772.5,457.7 780.5,464.7 788.5,469.2 796.5,486.0 804.5,486.2 812.5,487.9 820.5,489.2 828.5,497.4 836.5,499.7 844.5,489.9 852.5,479.6 860.5,470.7 868.5,448.1 876.5,430.7 884.5,403.2 892.5,385.4 900.5,371.9 908.5,364.4 916.5,349.9 924.5,374.2 932.5,398.1 940.5,407.8 948.5,410.2 956.5,415.2 964.5,429.3 972.5,450.9 980.5,465.3 988.5,460.9 996.5,452.8 1004.5,452.9 1012.5,451.7 1020.5,448.1 1028.5,456.5 1036.5,455.5 1044.5,452.9 1052.5,455.1 1060.5,454.5 1068.5,457.7 1076.5,460.8 1084.5,450.4 1092.5,442.2 1100.5,445.4 1108.5,442.0 1116.5,436.0 1124.5,441.0 1132.5,443.2 1140.5,441.6 1148.5,441.8 1156.5,441.9 1164.5,442.5 1172.5,441.5 1180.5,441.6 1188.5,429.6 1196.5,422.5 1204.5,418.3 1212.5,413.5 1220.5,411.2 1228.5,407.5 1236.5,400.2 1244.5,407.9 1252.5,416.3 1260.5,418.3 1268.5,423.6 1276.5,426.8 1284.5,429.0 1292.5,425.3 1300.5,424.7 1308.5,423.9" fill="none" stroke="#3cb371" stroke-width="1" shape-rendering="crispEdges"/>
<rect x="0" y="256" width="1655" height="2" fill="#ff0000"/>
<rect x="0" y="293" width="1655" height="2" fill="#ff0000"/>
<rect x="0" y="336" width="1655" height="2" fill="#ffa500"/>
<rect x="0" y="388" width="1655" height="2" fill="#0000ff"/>
<rect x="0" y="426" width="1655" height="2" fill="#0000ff"/>
<g shape-rendering="geometricPrecision">
<line x1="1140.5" y1="256.5" x2="1238.75" y2="350.1" stroke="#a2c83e" stroke-width="3.8"/>
<polygon points="1251.5,362.3 1232.8,356.4 1244.7,343.8" fill="#a2c83e"/>
<line x1="1240.4" y1="417.7" x2="1304.9" y2="355.8" stroke="#e4141e" stroke-width="3.8"/>
<polygon points="1317.1,343.8 1298.5,349.5 1311.3,362.1" fill="#e4141e"/>
<line x1="1330.5" y1="342.7" x2="1361.75" y2="387.2" stroke="#a2c83e" stroke-width="3.8"/>
<polygon points="1371.3,401.1 1354.7,392.2 1368.8,382.2" fill="#a2c83e"/>
</g>
</g>
<polygon points="1316.5,24 1326.5,24 1321.5,29.5" fill="#000"/>
<polygon points="0.5,30 6.5,30 3.5,34" fill="#000"/>
<text x="11.5" y="35" font-size="9.9" fill="#000" stroke="#000" stroke-width="0.12" text-anchor="start" textLength="58" lengthAdjust="spacingAndGlyphs">USDCNH-,H4</text>
<text x="76.4" y="35" font-size="9.9" fill="#000" stroke="#000" stroke-width="0.12" text-anchor="start" textLength="139.8" lengthAdjust="spacingAndGlyphs">6.68819 6.69913 6.68615 6.69403</text>
<rect x="1656" y="29" width="2" height="1" fill="#000"/>
<text x="1661" y="33" font-size="9.9" fill="#000" stroke="#000" stroke-width="0.12" text-anchor="start" textLength="32.5" lengthAdjust="spacingAndGlyphs">6.79440</text>
<rect x="1656" y="62" width="2" height="1" fill="#000"/>
<text x="1661" y="66" font-size="9.9" fill="#000" stroke="#000" stroke-width="0.12" text-anchor="start" textLength="32.5" lengthAdjust="spacingAndGlyphs">6.78420</text>
<rect x="1656" y="95" width="2" height="1" fill="#000"/>
<text x="1661" y="99" font-size="9.9" fill="#000" stroke="#000" stroke-width="0.12" text-anchor="start" textLength="32.5" lengthAdjust="spacingAndGlyphs">6.77430</text>
<rect x="1656" y="128" width="2" height="1" fill="#000"/>
<text x="1661" y="132" font-size="9.9" fill="#000" stroke="#000" stroke-width="0.12" text-anchor="start" textLength="32.5" lengthAdjust="spacingAndGlyphs">6.76410</text>
<rect x="1656" y="161" width="2" height="1" fill="#000"/>
<text x="1661" y="165" font-size="9.9" fill="#000" stroke="#000" stroke-width="0.12" text-anchor="start" textLength="32.5" lengthAdjust="spacingAndGlyphs">6.75420</text>
<rect x="1656" y="194" width="2" height="1" fill="#000"/>
<text x="1661" y="198" font-size="9.9" fill="#000" stroke="#000" stroke-width="0.12" text-anchor="start" textLength="32.5" lengthAdjust="spacingAndGlyphs">6.74400</text>
<rect x="1656" y="227" width="2" height="1" fill="#000"/>
<text x="1661" y="231" font-size="9.9" fill="#000" stroke="#000" stroke-width="0.12" text-anchor="start" textLength="32.5" lengthAdjust="spacingAndGlyphs">6.73380</text>
<rect x="1656" y="260" width="2" height="1" fill="#000"/>
<text x="1661" y="264" font-size="9.9" fill="#000" stroke="#000" stroke-width="0.12" text-anchor="start" textLength="32.5" lengthAdjust="spacingAndGlyphs">6.72390</text>
<rect x="1656" y="293" width="2" height="1" fill="#000"/>
<text x="1661" y="297" font-size="9.9" fill="#000" stroke="#000" stroke-width="0.12" text-anchor="start" textLength="32.5" lengthAdjust="spacingAndGlyphs">6.71370</text>
<rect x="1656" y="326" width="2" height="1" fill="#000"/>
<text x="1661" y="330" font-size="9.9" fill="#000" stroke="#000" stroke-width="0.12" text-anchor="start" textLength="32.5" lengthAdjust="spacingAndGlyphs">6.70350</text>
<rect x="1656" y="359" width="2" height="1" fill="#000"/>
<text x="1661" y="363" font-size="9.9" fill="#000" stroke="#000" stroke-width="0.12" text-anchor="start" textLength="32.5" lengthAdjust="spacingAndGlyphs">6.69360</text>
<rect x="1656" y="392" width="2" height="1" fill="#000"/>
<text x="1661" y="396" font-size="9.9" fill="#000" stroke="#000" stroke-width="0.12" text-anchor="start" textLength="32.5" lengthAdjust="spacingAndGlyphs">6.68340</text>
<rect x="1656" y="425" width="2" height="1" fill="#000"/>
<text x="1661" y="429" font-size="9.9" fill="#000" stroke="#000" stroke-width="0.12" text-anchor="start" textLength="32.5" lengthAdjust="spacingAndGlyphs">6.67320</text>
<rect x="1656" y="458" width="2" height="1" fill="#000"/>
<text x="1661" y="462" font-size="9.9" fill="#000" stroke="#000" stroke-width="0.12" text-anchor="start" textLength="32.5" lengthAdjust="spacingAndGlyphs">6.66330</text>
<rect x="1656" y="491" width="2" height="1" fill="#000"/>
<text x="1661" y="495" font-size="9.9" fill="#000" stroke="#000" stroke-width="0.12" text-anchor="start" textLength="32.5" lengthAdjust="spacingAndGlyphs">6.65310</text>
<rect x="1656" y="524" width="2" height="1" fill="#000"/>
<text x="1661" y="528" font-size="9.9" fill="#000" stroke="#000" stroke-width="0.12" text-anchor="start" textLength="32.5" lengthAdjust="spacingAndGlyphs">6.64290</text>
<rect x="1656" y="557" width="2" height="1" fill="#000"/>
<text x="1661" y="561" font-size="9.9" fill="#000" stroke="#000" stroke-width="0.12" text-anchor="start" textLength="32.5" lengthAdjust="spacingAndGlyphs">6.63300</text>
<rect x="1656" y="590" width="2" height="1" fill="#000"/>
<text x="1661" y="594" font-size="9.9" fill="#000" stroke="#000" stroke-width="0.12" text-anchor="start" textLength="32.5" lengthAdjust="spacingAndGlyphs">6.62280</text>
<rect x="1656" y="623" width="2" height="1" fill="#000"/>
<text x="1661" y="627" font-size="9.9" fill="#000" stroke="#000" stroke-width="0.12" text-anchor="start" textLength="32.5" lengthAdjust="spacingAndGlyphs">6.61290</text>
<rect x="1657" y="251" width="41" height="11" fill="#ff0000"/>
<text x="1661" y="260" font-size="9.9" fill="#fff" stroke="#fff" stroke-width="0.12" text-anchor="start" textLength="32.5" lengthAdjust="spacingAndGlyphs">6.72458</text>
<rect x="1657" y="288" width="41" height="11" fill="#ff0000"/>
<text x="1661" y="297" font-size="9.9" fill="#fff" stroke="#fff" stroke-width="0.12" text-anchor="start" textLength="32.5" lengthAdjust="spacingAndGlyphs">6.71347</text>
<rect x="1657" y="331" width="41" height="11" fill="#ffa500"/>
<text x="1661" y="340" font-size="9.9" fill="#fff" stroke="#fff" stroke-width="0.12" text-anchor="start" textLength="32.5" lengthAdjust="spacingAndGlyphs">6.70022</text>
<rect x="1657" y="352" width="41" height="11" fill="#000000"/>
<text x="1661" y="361" font-size="9.9" fill="#fff" stroke="#fff" stroke-width="0.12" text-anchor="start" textLength="32.5" lengthAdjust="spacingAndGlyphs">6.69403</text>
<rect x="1657" y="383" width="41" height="11" fill="#0000ff"/>
<text x="1661" y="392" font-size="9.9" fill="#fff" stroke="#fff" stroke-width="0.12" text-anchor="start" textLength="32.5" lengthAdjust="spacingAndGlyphs">6.68431</text>
<rect x="1657" y="421" width="41" height="11" fill="#0000ff"/>
<text x="1661" y="430" font-size="9.9" fill="#fff" stroke="#fff" stroke-width="0.12" text-anchor="start" textLength="32.5" lengthAdjust="spacingAndGlyphs">6.67285</text>
<g clip-path="url(#cd)">
<rect x="3" y="704" width="3" height="5" fill="#00ff00"/>
<rect x="11" y="704" width="3" height="4" fill="#00ff00"/>
<rect x="19" y="704" width="3" height="1" fill="#00ff00"/>
<rect x="27" y="704" width="3" height="3" fill="#00ff00"/>
<rect x="35" y="704" width="3" height="13" fill="#00ff00"/>
<rect x="43" y="704" width="3" height="20" fill="#00ff00"/>
<rect x="51" y="704" width="3" height="24" fill="#00ff00"/>
<rect x="59" y="704" width="3" height="26" fill="#00ff00"/>
<rect x="67" y="704" width="3" height="38" fill="#00ff00"/>
<rect x="75" y="704" width="3" height="46" fill="#00ff00"/>
<rect x="83" y="704" width="3" height="49" fill="#00ff00"/>
<rect x="91" y="704" width="3" height="49" fill="#00ff00"/>
<rect x="99" y="704" width="3" height="52" fill="#00ff00"/>
<rect x="107" y="704" width="3" height="57" fill="#00ff00"/>
<rect x="115" y="704" width="3" height="66" fill="#00ff00"/>
<rect x="123" y="704" width="3" height="70" fill="#00ff00"/>
<rect x="131" y="704" width="3" height="73" fill="#00ff00"/>
<rect x="139" y="704" width="3" height="73" fill="#00ff00"/>
<rect x="147" y="704" width="3" height="72" fill="#00ff00"/>
<rect x="155" y="704" width="3" height="68" fill="#00ff00"/>
<rect x="163" y="704" width="3" height="65" fill="#00ff00"/>
<rect x="171" y="704" width="3" height="65" fill="#00ff00"/>
<rect x="179" y="704" width="3" height="64" fill="#00ff00"/>
<rect x="187" y="704" width="3" height="63" fill="#00ff00"/>
<rect x="195" y="704" width="3" height="58" fill="#00ff00"/>
<rect x="203" y="704" width="3" height="53" fill="#00ff00"/>
<rect x="211" y="704" width="3" height="43" fill="#00ff00"/>
<rect x="219" y="704" width="3" height="32" fill="#00ff00"/>
<rect x="227" y="704" width="3" height="24" fill="#00ff00"/>
<rect x="235" y="704" width="3" height="17" fill="#00ff00"/>
<rect x="243" y="704" width="3" height="7" fill="#00ff00"/>
<rect x="251" y="699" width="3" height="5" fill="#00ff00"/>
<rect x="259" y="689" width="3" height="15" fill="#00ff00"/>
<rect x="267" y="679" width="3" height="25" fill="#00ff00"/>
<rect x="275" y="671" width="3" height="33" fill="#00ff00"/>
<rect x="283" y="666" width="3" height="38" fill="#00ff00"/>
<rect x="291" y="664" width="3" height="40" fill="#00ff00"/>
<rect x="299" y="664" width="3" height="40" fill="#00ff00"/>
<rect x="307" y="670" width="3" height="34" fill="#00ff00"/>
<rect x="315" y="677" width="3" height="27" fill="#00ff00"/>
<rect x="323" y="682" width="3" height="22" fill="#00ff00"/>
<rect x="331" y="698" width="3" height="6" fill="#00ff00"/>
<rect x="339" y="704" width="3" height="5" fill="#00ff00"/>
<rect x="347" y="704" width="3" height="13" fill="#00ff00"/>
<rect x="355" y="704" width="3" height="21" fill="#00ff00"/>
<rect x="363" y="704" width="3" height="26" fill="#00ff00"/>
<rect x="371" y="704" width="3" height="30" fill="#00ff00"/>
<rect x="379" y="704" width="3" height="32" fill="#00ff00"/>
<rect x="387" y="704" width="3" height="33" fill="#00ff00"/>
<rect x="395" y="704" width="3" height="33" fill="#00ff00"/>
<rect x="403" y="704" width="3" height="33" fill="#00ff00"/>
<rect x="411" y="704" width="3" height="32" fill="#00ff00"/>
<rect x="419" y="704" width="3" height="31" fill="#00ff00"/>
<rect x="427" y="704" width="3" height="25" fill="#00ff00"/>
<rect x="435" y="704" width="3" height="20" fill="#00ff00"/>
<rect x="443" y="704" width="3" height="18" fill="#00ff00"/>
<rect x="451" y="704" width="3" height="14" fill="#00ff00"/>
<rect x="459" y="704" width="3" height="11" fill="#00ff00"/>
<rect x="467" y="704" width="3" height="8" fill="#00ff00"/>
<rect x="475" y="704" width="3" height="4" fill="#00ff00"/>
<rect x="483" y="704" width="3" height="6" fill="#00ff00"/>
<rect x="491" y="704" width="3" height="8" fill="#00ff00"/>
<rect x="499" y="704" width="3" height="14" fill="#00ff00"/>
<rect x="507" y="704" width="3" height="18" fill="#00ff00"/>
<rect x="515" y="704" width="3" height="21" fill="#00ff00"/>
<rect x="523" y="704" width="3" height="31" fill="#00ff00"/>
<rect x="531" y="704" width="3" height="36" fill="#00ff00"/>
<rect x="539" y="704" width="3" height="39" fill="#00ff00"/>
<rect x="547" y="704" width="3" height="37" fill="#00ff00"/>
<rect x="555" y="704" width="3" height="35" fill="#00ff00"/>
<rect x="563" y="704" width="3" height="33" fill="#00ff00"/>
<rect x="571" y="704" width="3" height="33" fill="#00ff00"/>
<rect x="579" y="704" width="3" height="34" fill="#00ff00"/>
<rect x="587" y="704" width="3" height="32" fill="#00ff00"/>
<rect x="595" y="704" width="3" height="30" fill="#00ff00"/>
<rect x="603" y="704" width="3" height="27" fill="#00ff00"/>
<rect x="611" y="704" width="3" height="23" fill="#00ff00"/>
<rect x="619" y="704" width="3" height="18" fill="#00ff00"/>
<rect x="627" y="704" width="3" height="13" fill="#00ff00"/>
<rect x="635" y="704" width="3" height="9" fill="#00ff00"/>
<rect x="643" y="704" width="3" height="8" fill="#00ff00"/>
<rect x="651" y="704" width="3" height="5" fill="#00ff00"/>
<rect x="659" y="704" width="3" height="3" fill="#00ff00"/>
<rect x="667" y="703" width="3" height="1" fill="#00ff00"/>
<rect x="675" y="699" width="3" height="5" fill="#00ff00"/>
<rect x="683" y="696" width="3" height="8" fill="#00ff00"/>
<rect x="691" y="692" width="3" height="12" fill="#00ff00"/>
<rect x="699" y="689" width="3" height="15" fill="#00ff00"/>
<rect x="707" y="691" width="3" height="13" fill="#00ff00"/>
<rect x="715" y="690" width="3" height="14" fill="#00ff00"/>
<rect x="723" y="691" width="3" height="13" fill="#00ff00"/>
<rect x="731" y="690" width="3" height="14" fill="#00ff00"/>
<rect x="739" y="687" width="3" height="17" fill="#00ff00"/>
<rect x="747" y="686" width="3" height="18" fill="#00ff00"/>
<rect x="755" y="685" width="3" height="19" fill="#00ff00"/>
<rect x="763" y="685" width="3" height="19" fill="#00ff00"/>
<rect x="771" y="683" width="3" height="21" fill="#00ff00"/>
<rect x="779" y="677" width="3" height="27" fill="#00ff00"/>
<rect x="787" y="673" width="3" height="31" fill="#00ff00"/>
<rect x="795" y="664" width="3" height="40" fill="#00ff00"/>
<rect x="803" y="659" width="3" height="45" fill="#00ff00"/>
<rect x="811" y="653" width="3" height="51" fill="#00ff00"/>
<rect x="819" y="648" width="3" height="56" fill="#00ff00"/>
<rect x="827" y="641" width="3" height="63" fill="#00ff00"/>
<rect x="835" y="637" width="3" height="67" fill="#00ff00"/>
<rect x="843" y="640" width="3" height="64" fill="#00ff00"/>
<rect x="851" y="645" width="3" height="59" fill="#00ff00"/>
<rect x="859" y="648" width="3" height="56" fill="#00ff00"/>
<rect x="867" y="650" width="3" height="54" fill="#00ff00"/>
<rect x="875" y="653" width="3" height="51" fill="#00ff00"/>
<rect x="883" y="658" width="3" height="46" fill="#00ff00"/>
<rect x="891" y="666" width="3" height="38" fill="#00ff00"/>
<rect x="899" y="672" width="3" height="32" fill="#00ff00"/>
<rect x="907" y="681" width="3" height="23" fill="#00ff00"/>
<rect x="915" y="687" width="3" height="17" fill="#00ff00"/>
<rect x="923" y="701" width="3" height="3" fill="#00ff00"/>
<rect x="931" y="704" width="3" height="8" fill="#00ff00"/>
<rect x="939" y="704" width="3" height="10" fill="#00ff00"/>
<rect x="947" y="704" width="3" height="8" fill="#00ff00"/>
<rect x="955" y="704" width="3" height="7" fill="#00ff00"/>
<rect x="963" y="704" width="3" height="10" fill="#00ff00"/>
<rect x="971" y="704" width="3" height="16" fill="#00ff00"/>
<rect x="979" y="704" width="3" height="20" fill="#00ff00"/>
<rect x="987" y="704" width="3" height="18" fill="#00ff00"/>
<rect x="995" y="704" width="3" height="17" fill="#00ff00"/>
<rect x="1003" y="704" width="3" height="16" fill="#00ff00"/>
<rect x="1011" y="704" width="3" height="12" fill="#00ff00"/>
<rect x="1019" y="704" width="3" height="11" fill="#00ff00"/>
<rect x="1027" y="704" width="3" height="17" fill="#00ff00"/>
<rect x="1035" y="704" width="3" height="20" fill="#00ff00"/>
<rect x="1043" y="704" width="3" height="22" fill="#00ff00"/>
<rect x="1051" y="704" width="3" height="23" fill="#00ff00"/>
<rect x="1059" y="704" width="3" height="23" fill="#00ff00"/>
<rect x="1067" y="704" width="3" height="23" fill="#00ff00"/>
<rect x="1075" y="704" width="3" height="24" fill="#00ff00"/>
<rect x="1083" y="704" width="3" height="21" fill="#00ff00"/>
<rect x="1091" y="704" width="3" height="18" fill="#00ff00"/>
<rect x="1099" y="704" width="3" height="18" fill="#00ff00"/>
<rect x="1107" y="704" width="3" height="17" fill="#00ff00"/>
<rect x="1115" y="704" width="3" height="16" fill="#00ff00"/>
<rect x="1123" y="704" width="3" height="9" fill="#00ff00"/>
<rect x="1131" y="704" width="3" height="2" fill="#00ff00"/>
<rect x="1139" y="703" width="3" height="1" fill="#00ff00"/>
<rect x="1147" y="701" width="3" height="3" fill="#00ff00"/>
<rect x="1155" y="701" width="3" height="3" fill="#00ff00"/>
<rect x="1163" y="699" width="3" height="5" fill="#00ff00"/>
<rect x="1171" y="698" width="3" height="6" fill="#00ff00"/>
<rect x="1179" y="698" width="3" height="6" fill="#00ff00"/>
<rect x="1187" y="699" width="3" height="5" fill="#00ff00"/>
<rect x="1195" y="700" width="3" height="4" fill="#00ff00"/>
<rect x="1203" y="702" width="3" height="2" fill="#00ff00"/>
<rect x="1211" y="704" width="3" height="1" fill="#00ff00"/>
<rect x="1219" y="704" width="3" height="3" fill="#00ff00"/>
<rect x="1227" y="704" width="3" height="4" fill="#00ff00"/>
<rect x="1235" y="704" width="3" height="6" fill="#00ff00"/>
<rect x="1243" y="704" width="3" height="9" fill="#00ff00"/>
<rect x="1251" y="704" width="3" height="12" fill="#00ff00"/>
<rect x="1259" y="704" width="3" height="13" fill="#00ff00"/>
<rect x="1267" y="704" width="3" height="14" fill="#00ff00"/>
<rect x="1275" y="704" width="3" height="14" fill="#00ff00"/>
<rect x="1283" y="704" width="3" height="14" fill="#00ff00"/>
<rect x="1291" y="704" width="3" height="12" fill="#00ff00"/>
<rect x="1299" y="704" width="3" height="12" fill="#00ff00"/>
<rect x="1307" y="704" width="3" height="10" fill="#00ff00"/>
<polyline points="0.0,712.9 4.5,714.0 12.5,714.0 20.5,714.0 28.5,712.0 36.5,711.7 44.5,711.7 52.5,712.9 60.5,714.5 68.5,718.9 76.5,723.6 84.5,728.5 92.5,733.8 100.5,739.3 108.5,744.2 116.5,749.3 124.5,754.4 132.5,759.6 140.5,763.5 148.5,766.4 156.5,768.5 164.5,770.3 172.5,771.7 180.5,772.5 188.5,772.2 196.5,770.9 204.5,768.7 212.5,765.3 220.5,760.8 228.5,755.9 236.5,750.6 244.5,744.1 252.5,736.4 260.5,727.8 268.5,718.5 276.5,709.0 284.5,700.1 292.5,692.1 300.5,685.0 308.5,679.3 316.5,675.5 324.5,673.7 332.5,674.6 340.5,678.0 348.5,683.1 356.5,689.6 364.5,696.9 372.5,704.7 380.5,712.0 388.5,718.6 396.5,724.7 404.5,729.0 412.5,732.0 420.5,734.1 428.5,734.6 436.5,733.9 444.5,732.5 452.5,730.5 460.5,728.1 468.5,725.3 476.5,722.1 484.5,719.2 492.5,716.7 500.5,715.4 508.5,715.2 516.5,715.7 524.5,717.5 532.5,720.3 540.5,723.8 548.5,727.4 556.5,730.6 564.5,733.3 572.5,735.4 580.5,737.2 588.5,738.4 596.5,738.3 604.5,737.2 612.5,735.4 620.5,733.3 628.5,730.9 636.5,728.3 644.5,725.5 652.5,722.3 660.5,719.0 668.5,715.6 676.5,712.1 684.5,708.7 692.5,705.4 700.5,702.3 708.5,699.8 716.5,697.3 724.5,695.3 732.5,693.5 740.5,691.7 748.5,690.3 756.5,689.1 764.5,688.3 772.5,687.7 780.5,686.1 788.5,684.3 796.5,681.3 804.5,677.8 812.5,674.0 820.5,669.9 828.5,664.9 836.5,659.5 844.5,654.7 852.5,651.1 860.5,648.4 868.5,646.8 876.5,646.2 884.5,646.7 892.5,648.6 900.5,652.1 908.5,657.0 916.5,662.2 924.5,668.5 932.5,675.6 940.5,682.7 948.5,689.3 956.5,695.1 964.5,700.5 972.5,705.8 980.5,710.5 988.5,714.5 996.5,716.7 1004.5,717.5 1012.5,717.8 1020.5,718.0 1028.5,719.2 1036.5,720.4 1044.5,721.1 1052.5,721.4 1060.5,721.9 1068.5,722.5 1076.5,723.4 1084.5,724.4 1092.5,725.2 1100.5,725.3 1108.5,724.9 1116.5,724.2 1124.5,722.7 1132.5,720.4 1140.5,717.8 1148.5,714.8 1156.5,712.1 1164.5,709.6 1172.5,706.9 1180.5,704.3 1188.5,702.1 1196.5,700.6 1204.5,700.2 1212.5,700.4 1220.5,701.0 1228.5,701.8 1236.5,703.0 1244.5,704.6 1252.5,706.6 1260.5,708.6 1268.5,710.6 1276.5,712.4 1284.5,713.9 1292.5,715.0 1300.5,715.8 1308.5,716.2" fill="none" stroke="#ff0000" stroke-width="2"/>
</g>
<text x="1" y="641" font-size="9.9" fill="#000" stroke="#000" stroke-width="0.12" text-anchor="start" textLength="153" lengthAdjust="spacingAndGlyphs">MACD(12,26,9) -0.003702 -0.004607</text>
<text x="1659" y="639" font-size="9.9" fill="#000" stroke="#000" stroke-width="0.12" text-anchor="start" textLength="32.5" lengthAdjust="spacingAndGlyphs">0.02829</text>
<text x="1659" y="708" font-size="9.9" fill="#000" stroke="#000" stroke-width="0.12" text-anchor="start" textLength="18" lengthAdjust="spacingAndGlyphs">0.00</text>
<text x="1659" y="781" font-size="9.9" fill="#000" stroke="#000" stroke-width="0.12" text-anchor="start" textLength="40" lengthAdjust="spacingAndGlyphs">-0.030537</text>
<rect x="1656" y="704" width="2" height="1" fill="#000"/>
<rect x="1656" y="630" width="2" height="1" fill="#000"/>
<rect x="1656" y="788" width="2" height="1" fill="#000"/>
<g clip-path="url(#cr)">
<polyline points="0.0,848.0 4.5,849.4 12.5,856.0 20.5,851.7 28.5,859.3 36.5,873.6 44.5,873.0 52.5,868.3 60.5,866.8 68.5,881.7 76.5,879.1 84.5,871.3 92.5,869.0 100.5,873.8 108.5,877.8 116.5,883.2 124.5,879.0 132.5,879.0 140.5,878.6 148.5,875.4 156.5,870.4 164.5,871.5 172.5,876.7 180.5,876.2 188.5,875.9 196.5,867.7 204.5,864.7 212.5,851.7 220.5,847.8 228.5,849.6 236.5,849.6 244.5,839.2 252.5,834.0 260.5,833.3 268.5,829.2 276.5,829.8 284.5,829.7 292.5,837.8 300.5,839.9 308.5,855.4 316.5,859.6 324.5,858.4 332.5,878.0 340.5,874.3 348.5,872.6 356.5,875.1 364.5,874.1 372.5,874.8 380.5,869.5 388.5,870.5 396.5,870.5 404.5,868.5 412.5,869.3 420.5,868.6 428.5,851.8 436.5,853.6 444.5,857.7 452.5,853.3 460.5,854.2 468.5,850.7 476.5,848.3 484.5,864.1 492.5,864.1 500.5,873.4 508.5,875.0 516.5,873.0 524.5,885.3 532.5,881.0 540.5,876.0 548.5,865.5 556.5,866.9 564.5,862.8 572.5,868.2 580.5,872.6 588.5,863.1 596.5,862.4 604.5,860.4 612.5,856.5 620.5,853.5 628.5,849.9 636.5,850.8 644.5,855.7 652.5,852.5 660.5,850.5 668.5,845.5 676.5,842.6 684.5,842.2 692.5,839.6 700.5,836.9 708.5,854.5 716.5,846.7 724.5,853.9 732.5,846.9 740.5,842.9 748.5,843.2 756.5,845.8 764.5,845.7 772.5,839.7 780.5,830.2 788.5,830.2 796.5,821.3 804.5,824.8 812.5,822.3 820.5,820.1 828.5,815.9 836.5,817.6 844.5,839.2 852.5,844.3 860.5,840.9 868.5,839.8 876.5,841.4 884.5,846.9 892.5,856.8 900.5,856.9 908.5,865.1 916.5,860.6 924.5,878.9 932.5,876.3 940.5,861.7 948.5,855.2 956.5,854.8 964.5,863.4 972.5,869.0 980.5,867.2 988.5,858.5 996.5,859.1 1004.5,858.2 1012.5,853.7 1020.5,857.0 1028.5,870.3 1036.5,866.2 1044.5,864.6 1052.5,864.7 1060.5,863.6 1068.5,864.3 1076.5,867.1 1084.5,857.7 1092.5,857.6 1100.5,862.7 1108.5,859.1 1116.5,859.7 1124.5,846.0 1132.5,843.3 1140.5,848.2 1148.5,852.2 1156.5,853.5 1164.5,850.3 1172.5,850.9 1180.5,852.1 1188.5,856.4 1196.5,856.5 1204.5,861.8 1212.5,861.1 1220.5,864.1 1228.5,863.2 1236.5,865.5 1244.5,870.9 1252.5,872.1 1260.5,869.4 1268.5,870.1 1276.5,867.0 1284.5,863.7 1292.5,859.6 1300.5,862.3 1308.5,855.4" fill="none" stroke="#1e90ff" stroke-width="2"/>
<line x1="3" y1="815.5" x2="1655" y2="815.5" stroke="#000" stroke-width="1" stroke-dasharray="3,3" shape-rendering="crispEdges"/>
<line x1="3" y1="855.5" x2="1655" y2="855.5" stroke="#000" stroke-width="1" stroke-dasharray="3,3" shape-rendering="crispEdges"/>
<line x1="3" y1="903.5" x2="1655" y2="903.5" stroke="#000" stroke-width="1" stroke-dasharray="3,3" shape-rendering="crispEdges"/>
</g>
<text x="1" y="799" font-size="9.9" fill="#000" stroke="#000" stroke-width="0.12" text-anchor="start" textLength="68" lengthAdjust="spacingAndGlyphs">RSI(14) 50.2270</text>
<text x="1659" y="797" font-size="9.9" fill="#000" stroke="#000" stroke-width="0.12" text-anchor="start" textLength="15" lengthAdjust="spacingAndGlyphs">100</text>
<text x="1659" y="819" font-size="9.9" fill="#000" stroke="#000" stroke-width="0.12" text-anchor="start" textLength="10" lengthAdjust="spacingAndGlyphs">80</text>
<text x="1659" y="859" font-size="9.9" fill="#000" stroke="#000" stroke-width="0.12" text-anchor="start" textLength="10" lengthAdjust="spacingAndGlyphs">50</text>
<text x="1659" y="907" font-size="9.9" fill="#000" stroke="#000" stroke-width="0.12" text-anchor="start" textLength="10" lengthAdjust="spacingAndGlyphs">15</text>
<text x="1659" y="921" font-size="9.9" fill="#000" stroke="#000" stroke-width="0.12" text-anchor="start" textLength="5" lengthAdjust="spacingAndGlyphs">0</text>
<text x="-5.2" y="937" font-size="9.9" fill="#000" stroke="#000" stroke-width="0.12" text-anchor="start" textLength="54.9" lengthAdjust="spacingAndGlyphs">18 May 2022</text>
<rect x="60" y="925" width="1" height="3" fill="#000"/>
<text x="59" y="937" font-size="9.9" fill="#000" stroke="#000" stroke-width="0.12" text-anchor="start" textLength="57.8" lengthAdjust="spacingAndGlyphs">20 May 00:00</text>
<rect x="124" y="925" width="1" height="3" fill="#000"/>
<text x="123" y="937" font-size="9.9" fill="#000" stroke="#000" stroke-width="0.12" text-anchor="start" textLength="57.8" lengthAdjust="spacingAndGlyphs">23 May 12:00</text>
<rect x="188" y="925" width="1" height="3" fill="#000"/>
<text x="187" y="937" font-size="9.9" fill="#000" stroke="#000" stroke-width="0.12" text-anchor="start" textLength="57.8" lengthAdjust="spacingAndGlyphs">24 May 20:00</text>
<rect x="252" y="925" width="1" height="3" fill="#000"/>
<text x="251" y="937" font-size="9.9" fill="#000" stroke="#000" stroke-width="0.12" text-anchor="start" textLength="57.8" lengthAdjust="spacingAndGlyphs">26 May 04:00</text>
<rect x="316" y="925" width="1" height="3" fill="#000"/>
<text x="315" y="937" font-size="9.9" fill="#000" stroke="#000" stroke-width="0.12" text-anchor="start" textLength="57.8" lengthAdjust="spacingAndGlyphs">27 May 12:00</text>
<rect x="380" y="925" width="1" height="3" fill="#000"/>
<text x="379" y="937" font-size="9.9" fill="#000" stroke="#000" stroke-width="0.12" text-anchor="start" textLength="57.8" lengthAdjust="spacingAndGlyphs">31 May 00:00</text>
<rect x="444" y="925" width="1" height="3" fill="#000"/>
<text x="443" y="937" font-size="9.9" fill="#000" stroke="#000" stroke-width="0.12" text-anchor="start" textLength="47.6" lengthAdjust="spacingAndGlyphs">1 Jun 08:00</text>
<rect x="508" y="925" width="1" height="3" fill="#000"/>
<text x="507" y="937" font-size="9.9" fill="#000" stroke="#000" stroke-width="0.12" text-anchor="start" textLength="47.6" lengthAdjust="spacingAndGlyphs">2 Jun 16:00</text>
<rect x="572" y="925" width="1" height="3" fill="#000"/>
<text x="571" y="937" font-size="9.9" fill="#000" stroke="#000" stroke-width="0.12" text-anchor="start" textLength="47.6" lengthAdjust="spacingAndGlyphs">6 Jun 04:00</text>
<rect x="636" y="925" width="1" height="3" fill="#000"/>
<text x="635" y="937" font-size="9.9" fill="#000" stroke="#000" stroke-width="0.12" text-anchor="start" textLength="47.6" lengthAdjust="spacingAndGlyphs">7 Jun 12:00</text>
<rect x="700" y="925" width="1" height="3" fill="#000"/>
<text x="699" y="937" font-size="9.9" fill="#000" stroke="#000" stroke-width="0.12" text-anchor="start" textLength="47.6" lengthAdjust="spacingAndGlyphs">8 Jun 20:00</text>
<rect x="764" y="925" width="1" height="3" fill="#000"/>
<text x="763" y="937" font-size="9.9" fill="#000" stroke="#000" stroke-width="0.12" text-anchor="start" textLength="52.8" lengthAdjust="spacingAndGlyphs">10 Jun 04:00</text>
<rect x="828" y="925" width="1" height="3" fill="#000"/>
<text x="827" y="937" font-size="9.9" fill="#000" stroke="#000" stroke-width="0.12" text-anchor="start" textLength="52.8" lengthAdjust="spacingAndGlyphs">13 Jun 16:00</text>
<rect x="892" y="925" width="1" height="3" fill="#000"/>
<text x="891" y="937" font-size="9.9" fill="#000" stroke="#000" stroke-width="0.12" text-anchor="start" textLength="52.8" lengthAdjust="spacingAndGlyphs">15 Jun 00:00</text>
<rect x="956" y="925" width="1" height="3" fill="#000"/>
<text x="955" y="937" font-size="9.9" fill="#000" stroke="#000" stroke-width="0.12" text-anchor="start" textLength="52.8" lengthAdjust="spacingAndGlyphs">16 Jun 08:00</text>
<rect x="1020" y="925" width="1" height="3" fill="#000"/>
<text x="1019" y="937" font-size="9.9" fill="#000" stroke="#000" stroke-width="0.12" text-anchor="start" textLength="52.8" lengthAdjust="spacingAndGlyphs">17 Jun 16:00</text>
<rect x="1084" y="925" width="1" height="3" fill="#000"/>
<text x="1083" y="937" font-size="9.9" fill="#000" stroke="#000" stroke-width="0.12" text-anchor="start" textLength="52.8" lengthAdjust="spacingAndGlyphs">21 Jun 04:00</text>
<rect x="1148" y="925" width="1" height="3" fill="#000"/>
<text x="1147" y="937" font-size="9.9" fill="#000" stroke="#000" stroke-width="0.12" text-anchor="start" textLength="52.8" lengthAdjust="spacingAndGlyphs">22 Jun 12:00</text>
<rect x="1212" y="925" width="1" height="3" fill="#000"/>
<text x="1211" y="937" font-size="9.9" fill="#000" stroke="#000" stroke-width="0.12" text-anchor="start" textLength="52.8" lengthAdjust="spacingAndGlyphs">23 Jun 20:00</text>
<rect x="1276" y="925" width="1" height="3" fill="#000"/>
<text x="1275" y="937" font-size="9.9" fill="#000" stroke="#000" stroke-width="0.12" text-anchor="start" textLength="52.8" lengthAdjust="spacingAndGlyphs">27 Jun 08:00</text>
</g>
<g id="toolbar">
<rect x="0" y="0" width="1702" height="19" fill="#f0f0f0"/>
<rect x="0" y="18" width="1702" height="1" fill="#d8d8d8"/>
<rect x="0" y="19" width="1702" height="1" fill="#a0a0a0"/>
<rect x="0" y="20" width="1702" height="1" fill="#6e6e6e"/>
<rect x="1701" y="21" width="1" height="919" fill="#e3e3e3"/>
<rect x="0.5" y="-1" width="12" height="18" fill="none" stroke="#d0d0d0" stroke-width="1"/>
<circle cx="1.5" cy="5.5" r="4.2" fill="#dbe9f7" stroke="#5a8fd0" stroke-width="1.2"/>
<line x1="4" y1="10" x2="7.5" y2="14.5" stroke="#c8a020" stroke-width="2.2"/>
<rect x="16" y="1" width="1" height="16" fill="#a0a0a0"/><rect x="17" y="1" width="1" height="16" fill="#ffffff"/>
<path d="M26.5,0.5 H35 L38,3.5 V12.5 H26.5 Z" fill="#fff" stroke="#7a7a7a" stroke-width="1"/>
<rect x="28" y="2" width="3" height="1" fill="#888"/><rect x="28" y="5" width="6" height="1" fill="#888"/><rect x="28" y="7.5" width="6" height="1" fill="#888"/>
<path d="M34.5,5 h3 v4 h4 v3 h-4 v4.5 h-3 v-4.5 h-4 v-3 h4 z" fill="#1fd43a" stroke="#0a9a1e" stroke-width="0.8"/>
<text x="45" y="9.8" font-size="11.2" fill="#000" font-family="Liberation Sans, sans-serif" textLength="36" lengthAdjust="spacingAndGlyphs">新订单</text>
<path d="M94,8 L101,0 L109,6 L103,14.5 Z" fill="#e8c040" stroke="#a07010" stroke-width="1"/>
<path d="M95,9.5 L103,15 L109,7" fill="none" stroke="#c08020" stroke-width="1.2"/>
<rect x="123" y="0" width="9" height="9" fill="#3a9af0" stroke="#1a6ad0" stroke-width="0.8"/>
<rect x="125" y="3" width="5" height="1" fill="#fff"/>
<path d="M122,14.5 Q121,11 124.5,11 Q126,8 129.5,9.5 Q133,8 134,11 Q137.5,11.5 136.5,14.5 Z" fill="#e8eef8" stroke="#7a90b8" stroke-width="1"/>
<circle cx="157" cy="6.5" r="7.2" fill="none" stroke="#9ab8e0" stroke-width="0.9"/>
<circle cx="157" cy="6.5" r="4.6" fill="none" stroke="#6a98d8" stroke-width="0.9"/>
<circle cx="157" cy="6.5" r="2.2" fill="#2a6ad8"/>
<path d="M157,7 V14.5 H160" fill="none" stroke="#28a028" stroke-width="1.3"/>
<path d="M161,2 A7,7 0 0 1 163,13" fill="none" stroke="#40b040" stroke-width="1"/>
<path d="M177,6 Q185,2 193,6 L186,14 Z" fill="#f0d050" stroke="#b09020" stroke-width="0.8"/>
<ellipse cx="184" cy="5" rx="7.5" ry="3" fill="#58a8e0" stroke="#2878c0" stroke-width="0.8"/>
<path d="M182,4.5 L184.5,-1 L186.5,4.5 Z" fill="#78c0f0"/>
<circle cx="188.5" cy="11" r="4.3" fill="#d82020" stroke="#a01010" stroke-width="0.6"/>
<rect x="186.8" y="9.3" width="3.4" height="3.4" fill="#fff"/>
<text x="198" y="9.8" font-size="11.2" fill="#000" font-family="Liberation Sans, sans-serif" textLength="46" lengthAdjust="spacingAndGlyphs">自动交易</text>
<rect x="252" y="1" width="1" height="16" fill="#a0a0a0"/><rect x="253" y="1" width="1" height="16" fill="#ffffff"/>
<rect x="256" y="2" width="3" height="1" fill="#a8a8a8"/>
<rect x="256" y="4" width="3" height="1" fill="#a8a8a8"/>
<rect x="256" y="6" width="3" height="1" fill="#a8a8a8"/>
<rect x="256" y="8" width="3" height="1" fill="#a8a8a8"/>
<rect x="256" y="10" width="3" height="1" fill="#a8a8a8"/>
<rect x="256" y="12" width="3" height="1" fill="#a8a8a8"/>
<rect x="256" y="14" width="3" height="1" fill="#a8a8a8"/>
<path d="M268.5,1 V14.5 H281" fill="none" stroke="#505050" stroke-width="1.2"/>
<path d="M267,3 L268.5,1 L270,3" fill="none" stroke="#505050" stroke-width="0.8"/>
<path d="M279,13 L281,14.5 L279,16" fill="none" stroke="#505050" stroke-width="0.8"/>
<path d="M275.5,3 H278 M275.5,3 V9.5 H273" fill="none" stroke="#22a022" stroke-width="1.1"/>
<rect x="290" y="0" width="25" height="17" fill="#f6f6f6"/>
<path d="M297.5,1 V14.5 H310" fill="none" stroke="#505050" stroke-width="1.2"/>
<path d="M296,3 L297.5,1 L299,3" fill="none" stroke="#505050" stroke-width="0.8"/>
<path d="M308,13 L310,14.5 L308,16" fill="none" stroke="#505050" stroke-width="0.8"/>
<rect x="302" y="1.5" width="4" height="7" fill="#30d050" stroke="#208030" stroke-width="0.8"/><rect x="303.6" y="0" width="0.9" height="11" fill="#208030"/>
<path d="M325.5,1 V14.5 H338" fill="none" stroke="#505050" stroke-width="1.2"/>
<path d="M324,3 L325.5,1 L327,3" fill="none" stroke="#505050" stroke-width="0.8"/>
<path d="M336,13 L338,14.5 L336,16" fill="none" stroke="#505050" stroke-width="0.8"/>
<path d="M326,9 Q331,2 335,4 L338,8" fill="none" stroke="#30a030" stroke-width="1.1"/>
<rect x="347" y="1" width="1" height="16" fill="#a0a0a0"/><rect x="348" y="1" width="1" height="16" fill="#ffffff"/>
<line x1="365" y1="8.5" x2="370" y2="13.5" stroke="#c8a028" stroke-width="2.6"/>
<circle cx="362" cy="5" r="4.6" fill="#dceaf8" stroke="#4a88d0" stroke-width="1.2"/>
<rect x="359.5" y="4.3" width="5" height="1.5" fill="#3a78c8"/>
<rect x="361.25" y="2.5" width="1.5" height="5" fill="#3a78c8"/>
<line x1="393" y1="8.5" x2="398" y2="13.5" stroke="#c8a028" stroke-width="2.6"/>
<circle cx="390" cy="5" r="4.6" fill="#dceaf8" stroke="#4a88d0" stroke-width="1.2"/>
<rect x="387.5" y="4.3" width="5" height="1.5" fill="#3a78c8"/>
<rect x="412" y="0" width="7" height="7" fill="#40a040"/><rect x="420" y="0" width="7" height="7" fill="#2a60d0"/><rect x="412" y="7.5" width="7" height="7" fill="#2a60d0"/><rect x="420" y="7.5" width="7" height="7" fill="#40a040"/>
<rect x="413" y="3" width="5" height="1" fill="#fff"/>
<rect x="421" y="2" width="5" height="1" fill="#fff"/>
<rect x="413" y="10" width="5" height="1" fill="#fff"/>
<rect x="421" y="11" width="5" height="1" fill="#fff"/>
<rect x="436" y="1" width="1" height="16" fill="#a0a0a0"/><rect x="437" y="1" width="1" height="16" fill="#ffffff"/>
<path d="M448.5,1 V14.5 H461" fill="none" stroke="#505050" stroke-width="1.2"/>
<path d="M447,3 L448.5,1 L450,3" fill="none" stroke="#505050" stroke-width="0.8"/>
<path d="M459,13 L461,14.5 L459,16" fill="none" stroke="#505050" stroke-width="0.8"/>
<path d="M456,3 L460,6 L456,9 Z" fill="#30c030" stroke="#208020" stroke-width="0.6"/>
<rect x="468" y="1" width="1" height="16" fill="#a0a0a0"/><rect x="469" y="1" width="1" height="16" fill="#ffffff"/>
<path d="M473.5,1 V14.5 H486" fill="none" stroke="#505050" stroke-width="1.2"/>
<path d="M472,3 L473.5,1 L475,3" fill="none" stroke="#505050" stroke-width="0.8"/>
<path d="M484,13 L486,14.5 L484,16" fill="none" stroke="#505050" stroke-width="0.8"/>
<rect x="484" y="1" width="1" height="11" fill="#2a5ab0"/><path d="M490,6 H486 M487.5,4 L485.5,6 L487.5,8" fill="none" stroke="#d03010" stroke-width="1.1"/>
<rect x="499" y="1" width="1" height="16" fill="#a0a0a0"/><rect x="500" y="1" width="1" height="16" fill="#ffffff"/>
<path d="M509.5,0.5 H517 L520,3.5 V12.5 H509.5 Z" fill="#fff" stroke="#7a7a7a" stroke-width="1"/>
<path d="M514.5,5 h3 v4 h4 v3 h-4 v4.5 h-3 v-4.5 h-4 v-3 h4 z" fill="#1fd43a" stroke="#0a9a1e" stroke-width="0.8"/>
<path d="M531,5.5 H536 L533.5,8.5 Z" fill="#000"/>
<circle cx="555" cy="7" r="6.8" fill="#2a7ae0" stroke="#1850a8" stroke-width="1"/><circle cx="555" cy="7" r="4.6" fill="#f4f4f4"/><path d="M555,4 V7 H557" fill="none" stroke="#333" stroke-width="0.9"/>
<path d="M570,5.5 H575 L572.5,8.5 Z" fill="#000"/>
<rect x="585.5" y="0" width="17" height="14" fill="#fff" stroke="#3a78c8" stroke-width="1"/><rect x="586" y="0" width="16" height="3" fill="#5a98e0"/>
<path d="M588,6.5 L592,5 L595,6 L600,4" fill="none" stroke="#c02020" stroke-width="1"/><path d="M588,11 L592,9 L595,10.5 L600,8.5" fill="none" stroke="#209020" stroke-width="1"/>
<path d="M609,5.5 H614 L611.5,8.5 Z" fill="#000"/>
<rect x="620" y="1" width="1" height="16" fill="#a0a0a0"/><rect x="621" y="1" width="1" height="16" fill="#ffffff"/>
<rect x="624" y="2" width="3" height="1" fill="#a8a8a8"/>
<rect x="624" y="4" width="3" height="1" fill="#a8a8a8"/>
<rect x="624" y="6" width="3" height="1" fill="#a8a8a8"/>
<rect x="624" y="8" width="3" height="1" fill="#a8a8a8"/>
<rect x="624" y="10" width="3" height="1" fill="#a8a8a8"/>
<rect x="624" y="12" width="3" height="1" fill="#a8a8a8"/>
<rect x="624" y="14" width="3" height="1" fill="#a8a8a8"/>
<rect x="631" y="0" width="24" height="17" fill="#f6f6f6"/>
<path d="M638,1 L638,12 L640.5,9.5 L643,14 L645,13 L642.5,8.5 L646,8.5 Z" fill="#303030"/>
<path d="M670.5,0 V15 M662,7.5 H679" stroke="#404040" stroke-width="1"/>
<rect x="687" y="1" width="1" height="16" fill="#a0a0a0"/><rect x="688" y="1" width="1" height="16" fill="#ffffff"/>
<rect x="704" y="1.5" width="1.2" height="12" fill="#404040"/>
<rect x="727" y="7" width="13" height="1.2" fill="#404040"/>
<line x1="754" y1="14" x2="767" y2="1.5" stroke="#404040" stroke-width="1.1"/>
<path d="M782,11 L792,1 M784,13 L794,3 M783,7 H793 M784,4 H794" fill="none" stroke="#404040" stroke-width="0.9"/>
<text x="792" y="15" font-size="6" font-weight="bold" fill="#404040" font-family="Liberation Sans, sans-serif">E</text>
<line x1="808" y1="1.5" x2="822" y2="1.5" stroke="#505050" stroke-width="1" stroke-dasharray="1,1"/>
<line x1="808" y1="4.5" x2="822" y2="4.5" stroke="#505050" stroke-width="1" stroke-dasharray="1,1"/>
<line x1="808" y1="7.5" x2="822" y2="7.5" stroke="#505050" stroke-width="1" stroke-dasharray="1,1"/>
<line x1="808" y1="10.5" x2="822" y2="10.5" stroke="#505050" stroke-width="1" stroke-dasharray="1,1"/>
<text x="818" y="15" font-size="6" font-weight="bold" fill="#404040" font-family="Liberation Sans, sans-serif">F</text>
<text x="839" y="12" font-size="12" fill="#404040" font-family="Liberation Sans, sans-serif">A</text>
<rect x="866.5" y="0.5" width="13" height="13" fill="none" stroke="#505050" stroke-width="1" stroke-dasharray="1,1"/>
<text x="869" y="11.5" font-size="11" font-weight="bold" fill="#404040" font-family="Liberation Sans, sans-serif">T</text>
<path d="M896,3 L899,0 L902,3 Z M900,11 L903,14 L906,11 Z" fill="#404040"/><path d="M895,5 L899,9 L909,5" fill="none" stroke="#404040" stroke-width="1.2"/>
<path d="M916,5.5 H921 L918.5,8.5 Z" fill="#000"/>
<rect x="926" y="1" width="1" height="16" fill="#a0a0a0"/><rect x="927" y="1" width="1" height="16" fill="#ffffff"/>
<rect x="930" y="2" width="3" height="1" fill="#a8a8a8"/>
<rect x="930" y="4" width="3" height="1" fill="#a8a8a8"/>
<rect x="930" y="6" width="3" height="1" fill="#a8a8a8"/>
<rect x="930" y="8" width="3" height="1" fill="#a8a8a8"/>
<rect x="930" y="10" width="3" height="1" fill="#a8a8a8"/>
<rect x="930" y="12" width="3" height="1" fill="#a8a8a8"/>
<rect x="930" y="14" width="3" height="1" fill="#a8a8a8"/>
<text x="941.5" y="11" font-size="9.5" fill="#383838" font-family="Liberation Sans, sans-serif" textLength="13.0" lengthAdjust="spacingAndGlyphs">M1</text>
<text x="969.5" y="11" font-size="9.5" fill="#383838" font-family="Liberation Sans, sans-serif" textLength="14.0" lengthAdjust="spacingAndGlyphs">M5</text>
<text x="995.5" y="11" font-size="9.5" fill="#383838" font-family="Liberation Sans, sans-serif" textLength="18.0" lengthAdjust="spacingAndGlyphs">M15</text>
<text x="1023.5" y="11" font-size="9.5" fill="#383838" font-family="Liberation Sans, sans-serif" textLength="18.0" lengthAdjust="spacingAndGlyphs">M30</text>
<text x="1054" y="11" font-size="9.5" fill="#383838" font-family="Liberation Sans, sans-serif" textLength="12" lengthAdjust="spacingAndGlyphs">H1</text>
<rect x="1077" y="0" width="24" height="17" fill="#f6f6f6"/><rect x="1076" y="0" width="1" height="17" fill="#a0a0a0"/>
<text x="1081.5" y="11" font-size="9.5" fill="#383838" font-family="Liberation Sans, sans-serif" textLength="13.0" lengthAdjust="spacingAndGlyphs">H4</text>
<text x="1110" y="11" font-size="9.5" fill="#383838" font-family="Liberation Sans, sans-serif" textLength="12" lengthAdjust="spacingAndGlyphs">D1</text>
<text x="1138.5" y="11" font-size="9.5" fill="#383838" font-family="Liberation Sans, sans-serif" textLength="14.5" lengthAdjust="spacingAndGlyphs">W1</text>
<text x="1164.5" y="11" font-size="9.5" fill="#383838" font-family="Liberation Sans, sans-serif" textLength="15.0" lengthAdjust="spacingAndGlyphs">MN</text>
<rect x="1187" y="1" width="1" height="16" fill="#a0a0a0"/><rect x="1188" y="1" width="1" height="16" fill="#ffffff"/>
<line x1="1651" y1="11.5" x2="1655" y2="7.5" stroke="#2a60c8" stroke-width="2.2"/>
<circle cx="1657.5" cy="4.2" r="3.8" fill="#f4f4ff" stroke="#3a70d8" stroke-width="1.3"/>
<path d="M1675,9 Q1675,4 1681,4 Q1687,4 1687,9 Q1687,13 1680,13 L1677.5,15.5 L1678,12.5 Q1675,11.5 1675,9 Z" fill="#e4e6ee" stroke="#a0a0a0" stroke-width="0.8"/>
<circle cx="1688.5" cy="5" r="8.3" fill="#e02818"/>
<text x="1685" y="9.5" font-size="11" font-weight="bold" fill="#fff" font-family="Liberation Serif, serif">1</text>
</g>
</svg>
</body></html>
